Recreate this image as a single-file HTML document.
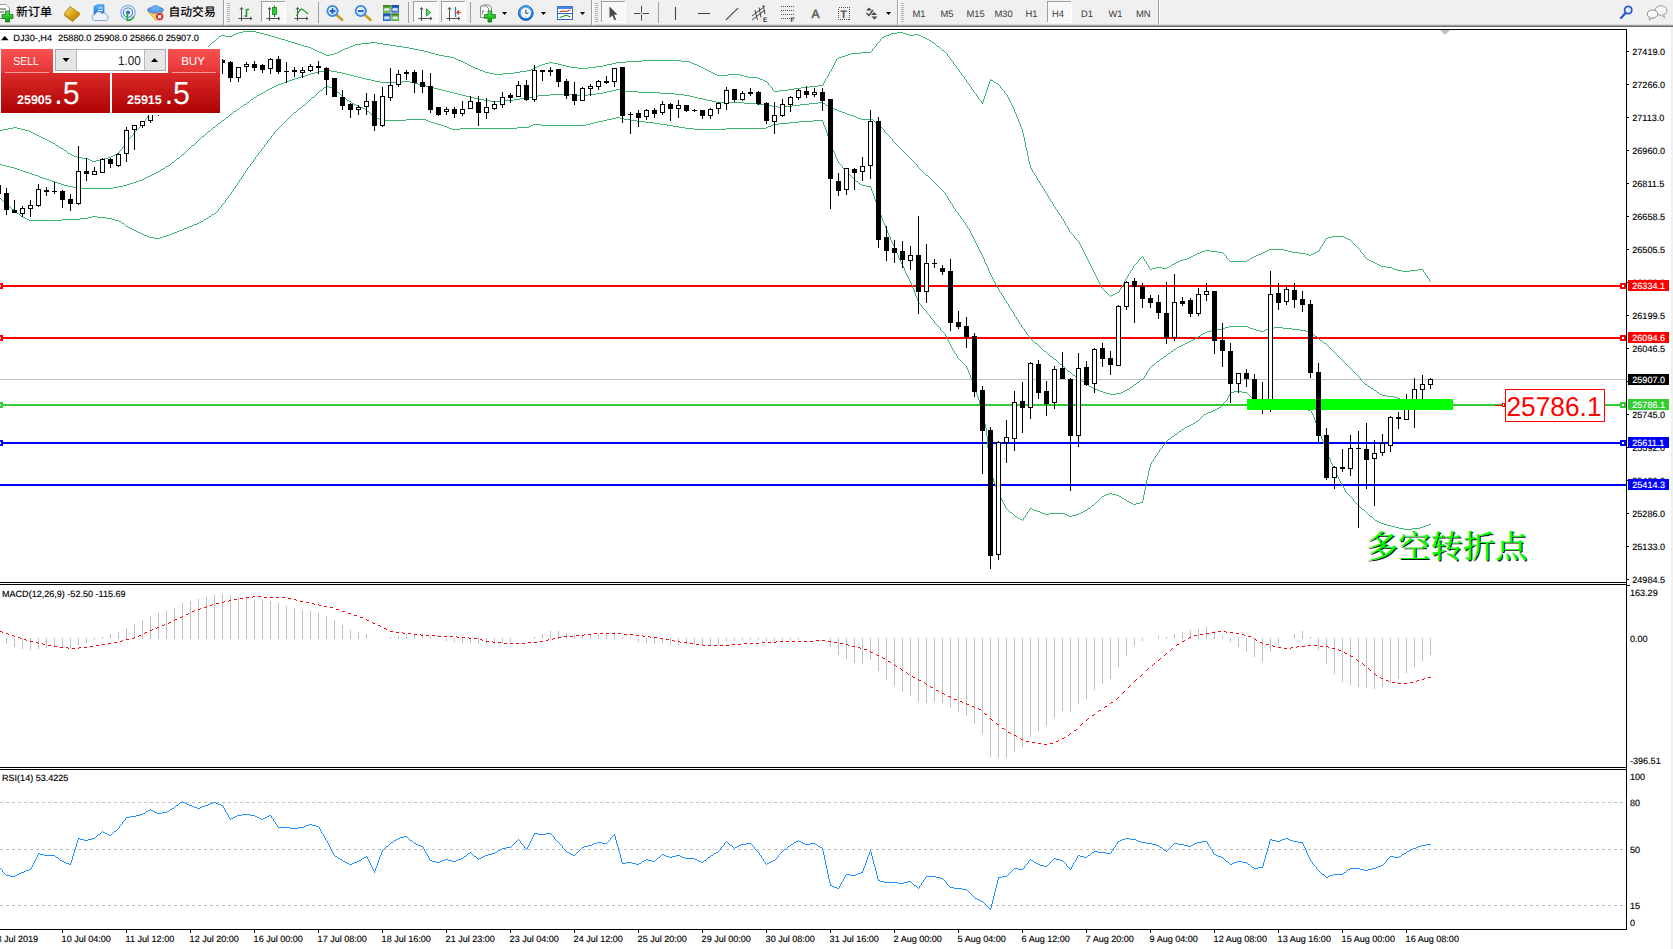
<!DOCTYPE html>
<html><head><meta charset="utf-8"><title>DJ30 H4</title>
<style>html,body{margin:0;padding:0;background:#fff;overflow:hidden}svg{display:block}text{shape-rendering:auto;text-rendering:geometricPrecision}</style></head>
<body>
<svg width="1673" height="949" viewBox="0 0 1673 949" font-family='"Liberation Sans","Noto Sans CJK SC",sans-serif' shape-rendering="crispEdges">
<defs>
<linearGradient id="gt" x1="0" y1="0" x2="0" y2="1"><stop offset="0" stop-color="#fb5252"/><stop offset="1" stop-color="#e53535"/></linearGradient>
<linearGradient id="gb" x1="0" y1="0" x2="0" y2="1"><stop offset="0" stop-color="#dc2a2a"/><stop offset="1" stop-color="#ad0202"/></linearGradient>
<clipPath id="cm"><rect x="0" y="30" width="1626" height="552"/></clipPath>
</defs>
<rect x="0" y="0" width="1673" height="949" fill="#fff"/>
<g clip-path="url(#cm)">
<rect x="0" y="379" width="1626" height="1" fill="#c0c0c0"/>
<rect x="0" y="285" width="1626" height="2" fill="#ff0000"/>
<rect x="0" y="337" width="1626" height="2" fill="#ff0000"/>
<rect x="0" y="404" width="1626" height="2" fill="#32cd32"/>
<rect x="0" y="442" width="1626" height="2" fill="#0000ff"/>
<rect x="0" y="484" width="1626" height="2" fill="#0000ff"/>
<path d="M243 31.5h13M239 32.5h4M256 32.5h4M897 32.5h6M236 33.5h3M260 33.5h4M891 33.5h6M903 33.5h3M234 34.5h2M264 34.5h4M889 34.5h2M906 34.5h3M914 34.5h5M221 35.5h4M232 35.5h2M268 35.5h3M886 35.5h3M909 35.5h5M919 35.5h2M219 36.5h2M225 36.5h7M271 36.5h4M884 36.5h2M921 36.5h2M275 37.5h3M882 37.5h2M923 37.5h2M278 38.5h3M925 38.5h2M281 39.5h4M927 39.5h2M285 40.5h3M929 40.5h2M213 41.5h2M288 41.5h3M291 42.5h4M370 42.5h7M932 42.5h2M295 43.5h3M361 43.5h9M377 43.5h6M298 44.5h3M355 44.5h6M383 44.5h7M301 45.5h3M353 45.5h2M390 45.5h6M304 46.5h4M350 46.5h3M396 46.5h7M937 46.5h2M308 47.5h3M348 47.5h2M403 47.5h6M311 48.5h2M345 48.5h3M409 48.5h5M313 49.5h2M343 49.5h2M414 49.5h5M203 50.5h2M315 50.5h2M341 50.5h2M419 50.5h5M942 50.5h2M317 51.5h2M339 51.5h2M424 51.5h4M319 52.5h3M337 52.5h2M428 52.5h3M861 52.5h10M322 53.5h2M334 53.5h3M431 53.5h4M851 53.5h10M324 54.5h2M330 54.5h4M435 54.5h4M848 54.5h3M326 55.5h4M439 55.5h5M845 55.5h3M444 56.5h6M842 56.5h3M450 57.5h4M839 57.5h3M194 58.5h2M454 58.5h2M837 58.5h2M456 59.5h2M458 60.5h3M642 60.5h39M461 61.5h2M626 61.5h16M681 61.5h9M463 62.5h2M549 62.5h4M616 62.5h10M690 62.5h2M465 63.5h2M545 63.5h4M553 63.5h5M612 63.5h4M692 63.5h2M467 64.5h2M542 64.5h3M558 64.5h4M607 64.5h5M694 64.5h3M469 65.5h2M539 65.5h3M562 65.5h4M603 65.5h4M697 65.5h2M471 66.5h2M537 66.5h2M566 66.5h4M596 66.5h7M699 66.5h2M473 67.5h2M535 67.5h2M570 67.5h8M588 67.5h8M701 67.5h2M475 68.5h3M533 68.5h2M578 68.5h10M703 68.5h2M478 69.5h2M531 69.5h2M705 69.5h2M480 70.5h3M527 70.5h4M707 70.5h2M483 71.5h2M520 71.5h7M709 71.5h2M485 72.5h4M514 72.5h6M711 72.5h2M489 73.5h5M503 73.5h11M713 73.5h2M494 74.5h9M715 74.5h2M728 74.5h12M717 75.5h11M740 75.5h4M744 76.5h4M748 77.5h10M758 78.5h2M760 79.5h3M763 80.5h2M990 80.5h3M765 81.5h2M994 82.5h2M996 83.5h2M818 85.5h5M809 86.5h9M801 87.5h8M794 88.5h7M788 89.5h6M779 90.5h9M774 91.5h5M981 102.5h2M13 127.5h4M8 128.5h5M17 128.5h4M3 129.5h5M21 129.5h4M0 130.5h3M25 130.5h4M29 131.5h2M31 132.5h2M33 133.5h2M35 134.5h2M37 135.5h2M39 136.5h2M41 137.5h2M43 138.5h2M45 139.5h2M47 140.5h2M49 141.5h2M51 142.5h2M53 143.5h2M56 145.5h2M59 147.5h2M61 148.5h2M64 150.5h2M68 153.5h2M117 153.5h2M70 154.5h2M115 154.5h2M72 155.5h2M113 155.5h2M74 156.5h3M111 156.5h2M77 157.5h5M108 157.5h3M82 158.5h6M104 158.5h4M88 159.5h2M100 159.5h4M90 160.5h2M96 160.5h4M92 161.5h4M1332 236.5h12M1328 237.5h4M1344 237.5h2M1326 238.5h2M1346 238.5h2M1348 239.5h2M1269 249.5h15M1205 250.5h5M1267 250.5h2M1284 250.5h4M1202 251.5h3M1210 251.5h8M1265 251.5h2M1288 251.5h4M1317 251.5h2M1200 252.5h2M1218 252.5h5M1263 252.5h2M1292 252.5h7M1315 252.5h2M1197 253.5h3M1261 253.5h2M1299 253.5h7M1313 253.5h2M1195 254.5h2M1258 254.5h3M1306 254.5h3M1311 254.5h2M1193 255.5h2M1256 255.5h2M1309 255.5h2M1191 256.5h2M1254 256.5h2M1189 257.5h2M1252 257.5h2M1187 258.5h2M1250 258.5h2M1183 259.5h4M1367 259.5h2M1180 260.5h3M1247 260.5h2M1369 260.5h2M1178 261.5h2M1230 261.5h17M1371 261.5h2M1176 262.5h2M1373 262.5h2M1174 263.5h2M1375 263.5h2M1172 264.5h2M1377 264.5h2M1379 265.5h2M1169 266.5h2M1381 266.5h5M1156 267.5h6M1167 267.5h2M1386 267.5h6M1152 268.5h4M1162 268.5h5M1392 268.5h2M1150 269.5h2M1394 269.5h3M1418 269.5h5M1397 270.5h5M1410 270.5h8M1402 271.5h8M1117 292.5h2M1115 293.5h2M1113 294.5h2M1111 295.5h2M55.5 144v1M58.5 146v1M63.5 149v1M66.5 151v1M67.5 152v1M119.5 151v2M120.5 150v1M121.5 149v1M122.5 147v2M123.5 146v1M124.5 145v1M125.5 143v2M126.5 142v1M127.5 141v1M128.5 139v2M129.5 138v1M130.5 137v1M131.5 136v1M132.5 135v1M133.5 133v2M134.5 132v1M135.5 131v1M136.5 130v1M137.5 129v1M138.5 128v1M139.5 127v1M140.5 126v1M141.5 125v1M142.5 124v1M143.5 122v2M144.5 121v1M145.5 119v2M146.5 118v1M147.5 116v2M148.5 115v1M149.5 114v1M150.5 112v2M151.5 111v1M152.5 110v1M153.5 109v1M154.5 107v2M155.5 106v1M156.5 105v1M157.5 104v1M158.5 102v2M159.5 101v1M160.5 100v1M161.5 99v1M162.5 97v2M163.5 96v1M164.5 95v1M165.5 93v2M166.5 92v1M167.5 91v1M168.5 89v2M169.5 88v1M170.5 87v1M171.5 85v2M172.5 84v1M173.5 83v1M174.5 81v2M175.5 80v1M176.5 79v1M177.5 78v1M178.5 76v2M179.5 75v1M180.5 74v1M181.5 73v1M182.5 72v1M183.5 70v2M184.5 69v1M185.5 68v1M186.5 67v1M187.5 66v1M188.5 64v2M189.5 63v1M190.5 62v1M191.5 61v1M192.5 60v1M193.5 59v1M196.5 57v1M197.5 56v1M198.5 55v1M199.5 54v1M200.5 53v1M201.5 52v1M202.5 51v1M205.5 49v1M206.5 48v1M207.5 47v1M208.5 46v1M209.5 45v1M210.5 44v1M211.5 43v1M212.5 42v1M215.5 40v1M216.5 39v1M217.5 38v1M218.5 37v1M767.5 82v1M768.5 83v2M769.5 85v1M770.5 86v1M771.5 87v1M772.5 88v2M773.5 90v1M823.5 83v2M824.5 81v2M825.5 79v2M826.5 78v1M827.5 76v2M828.5 74v2M829.5 72v2M830.5 71v1M831.5 69v2M832.5 67v2M833.5 65v2M834.5 63v2M835.5 61v2M836.5 59v2M871.5 51v1M872.5 49v2M873.5 48v1M874.5 47v1M875.5 46v1M876.5 44v2M877.5 43v1M878.5 42v1M879.5 41v1M880.5 39v2M881.5 38v1M931.5 41v1M934.5 43v1M935.5 44v1M936.5 45v1M939.5 47v1M940.5 48v1M941.5 49v1M944.5 51v1M945.5 52v1M946.5 53v1M947.5 54v2M948.5 56v1M949.5 57v1M950.5 58v2M951.5 60v1M952.5 61v1M953.5 62v2M954.5 64v1M955.5 65v1M956.5 66v2M957.5 68v1M958.5 69v1M959.5 70v2M960.5 72v1M961.5 73v2M962.5 75v1M963.5 76v1M964.5 77v2M965.5 79v1M966.5 80v2M967.5 82v1M968.5 83v1M969.5 84v2M970.5 86v1M971.5 87v2M972.5 89v1M973.5 90v2M974.5 92v1M975.5 93v1M976.5 94v2M977.5 96v1M978.5 97v2M979.5 99v1M980.5 100v1M981.5 101v1M982.5 103v1M983.5 99v3M984.5 96v3M985.5 93v3M986.5 90v3M987.5 87v3M988.5 84v3M989.5 81v3M990.5 79v1M993.5 81v1M998.5 84v1M999.5 85v1M1000.5 86v2M1001.5 88v1M1002.5 89v1M1003.5 90v1M1004.5 91v2M1005.5 93v1M1006.5 94v1M1007.5 95v2M1008.5 97v2M1009.5 99v2M1010.5 101v2M1011.5 103v2M1012.5 105v2M1013.5 107v2M1014.5 109v3M1015.5 112v2M1016.5 114v3M1017.5 117v2M1018.5 119v3M1019.5 122v2M1020.5 124v3M1021.5 127v2M1022.5 129v4M1023.5 133v4M1024.5 137v5M1025.5 142v5M1026.5 147v4M1027.5 151v5M1028.5 156v5M1029.5 161v4M1030.5 165v3M1031.5 168v2M1032.5 170v2M1033.5 172v1M1034.5 173v2M1035.5 175v1M1036.5 176v2M1037.5 178v2M1038.5 180v1M1039.5 181v2M1040.5 183v2M1041.5 185v1M1042.5 186v2M1043.5 188v1M1044.5 189v2M1045.5 191v2M1046.5 193v1M1047.5 194v2M1048.5 196v2M1049.5 198v1M1050.5 199v2M1051.5 201v1M1052.5 202v2M1053.5 204v2M1054.5 206v1M1055.5 207v2M1056.5 209v1M1057.5 210v2M1058.5 212v1M1059.5 213v2M1060.5 215v1M1061.5 216v2M1062.5 218v1M1063.5 219v2M1064.5 221v2M1065.5 223v2M1066.5 225v1M1067.5 226v2M1068.5 228v2M1069.5 230v2M1070.5 232v1M1071.5 233v1M1072.5 234v1M1073.5 235v1M1074.5 236v2M1075.5 238v1M1076.5 239v1M1077.5 240v1M1078.5 241v1M1079.5 242v2M1080.5 244v2M1081.5 246v2M1082.5 248v2M1083.5 250v2M1084.5 252v2M1085.5 254v2M1086.5 256v2M1087.5 258v2M1088.5 260v2M1089.5 262v2M1090.5 264v2M1091.5 266v2M1092.5 268v2M1093.5 270v2M1094.5 272v2M1095.5 274v2M1096.5 276v2M1097.5 278v2M1098.5 280v2M1099.5 282v2M1100.5 284v2M1101.5 286v2M1102.5 288v1M1103.5 289v1M1104.5 290v1M1105.5 291v1M1106.5 292v1M1107.5 293v1M1108.5 294v1M1109.5 295v1M1110.5 296v1M1119.5 290v2M1120.5 288v2M1121.5 286v2M1122.5 285v1M1123.5 283v2M1124.5 281v2M1125.5 279v2M1126.5 278v1M1127.5 276v2M1128.5 274v2M1129.5 273v1M1130.5 271v2M1131.5 270v1M1132.5 268v2M1133.5 266v2M1134.5 265v1M1135.5 264v1M1136.5 263v1M1137.5 262v1M1138.5 260v2M1139.5 259v1M1140.5 258v1M1141.5 257v1M1142.5 256v1M1143.5 257v2M1144.5 259v2M1145.5 261v1M1146.5 262v2M1147.5 264v1M1148.5 265v2M1149.5 267v2M1171.5 265v1M1223.5 253v1M1224.5 254v1M1225.5 255v1M1226.5 256v2M1227.5 258v1M1228.5 259v1M1229.5 260v1M1249.5 259v1M1319.5 249v2M1320.5 247v2M1321.5 246v1M1322.5 244v2M1323.5 243v1M1324.5 241v2M1325.5 239v2M1350.5 240v1M1351.5 241v1M1352.5 242v1M1353.5 243v1M1354.5 244v1M1355.5 245v1M1356.5 246v1M1357.5 247v1M1358.5 248v1M1359.5 249v1M1360.5 250v2M1361.5 252v1M1362.5 253v1M1363.5 254v1M1364.5 255v2M1365.5 257v1M1366.5 258v1M1423.5 270v2M1424.5 272v1M1425.5 273v2M1426.5 275v1M1427.5 276v2M1428.5 278v1M1429.5 279v2M1430.5 281v1" fill="none" stroke="#3cb371" stroke-width="1"/>
<path d="M325 70.5h6M319 71.5h6M331 71.5h6M315 72.5h4M337 72.5h5M311 73.5h4M342 73.5h4M308 74.5h3M346 74.5h4M305 75.5h3M350 75.5h4M301 76.5h4M354 76.5h4M298 77.5h3M358 77.5h4M295 78.5h3M362 78.5h4M292 79.5h3M366 79.5h5M289 80.5h3M371 80.5h4M286 81.5h3M375 81.5h5M402 81.5h8M284 82.5h2M380 82.5h22M410 82.5h4M281 83.5h3M414 83.5h4M278 84.5h3M418 84.5h4M276 85.5h2M422 85.5h4M274 86.5h2M426 86.5h4M272 87.5h2M430 87.5h4M270 88.5h2M434 88.5h4M268 89.5h2M438 89.5h4M616 89.5h4M266 90.5h2M442 90.5h4M612 90.5h4M620 90.5h4M446 91.5h4M607 91.5h5M624 91.5h14M263 92.5h2M450 92.5h4M603 92.5h4M638 92.5h22M261 93.5h2M454 93.5h4M596 93.5h7M660 93.5h15M259 94.5h2M458 94.5h4M550 94.5h22M588 94.5h8M675 94.5h9M257 95.5h2M462 95.5h4M538 95.5h12M572 95.5h16M684 95.5h6M466 96.5h4M533 96.5h5M690 96.5h4M254 97.5h2M470 97.5h4M527 97.5h6M694 97.5h4M474 98.5h5M520 98.5h7M698 98.5h5M251 99.5h2M479 99.5h5M514 99.5h6M703 99.5h4M484 100.5h6M501 100.5h13M707 100.5h5M490 101.5h11M712 101.5h4M247 102.5h2M716 102.5h28M818 102.5h5M744 103.5h13M809 103.5h9M823 103.5h2M244 104.5h2M757 104.5h10M800 104.5h9M767 105.5h5M792 105.5h8M826 105.5h2M241 106.5h2M772 106.5h6M784 106.5h8M828 106.5h2M778 107.5h6M830 107.5h2M832 108.5h2M237 109.5h2M834 109.5h3M837 110.5h2M234 111.5h2M839 111.5h3M842 112.5h3M845 113.5h2M230 114.5h2M847 114.5h3M850 115.5h3M853 116.5h3M226 117.5h2M856 117.5h2M858 118.5h3M861 119.5h12M222 120.5h2M218 123.5h2M876 123.5h2M213 127.5h2M208 131.5h2M202 136.5h2M192 145.5h2M182 154.5h2M177 158.5h2M172 162.5h2M0 164.5h2M2 165.5h4M168 165.5h2M6 166.5h4M166 166.5h2M10 167.5h4M14 168.5h3M163 168.5h2M17 169.5h3M161 169.5h2M20 170.5h3M23 171.5h3M158 171.5h2M26 172.5h3M156 172.5h2M29 173.5h3M154 173.5h2M32 174.5h3M152 174.5h2M35 175.5h3M150 175.5h2M926 175.5h2M38 176.5h2M148 176.5h2M40 177.5h3M146 177.5h2M43 178.5h3M144 178.5h2M46 179.5h3M142 179.5h2M49 180.5h3M139 180.5h3M52 181.5h3M136 181.5h3M55 182.5h3M133 182.5h3M58 183.5h3M130 183.5h3M61 184.5h3M127 184.5h3M64 185.5h4M123 185.5h4M68 186.5h5M118 186.5h5M73 187.5h8M113 187.5h5M81 188.5h32M1229 326.5h19M1225 327.5h4M1248 327.5h2M1274 327.5h9M1222 328.5h3M1250 328.5h3M1269 328.5h5M1283 328.5h9M1217 329.5h5M1253 329.5h3M1266 329.5h3M1292 329.5h8M1211 330.5h6M1256 330.5h4M1264 330.5h2M1300 330.5h6M1207 331.5h4M1260 331.5h4M1306 331.5h2M1205 332.5h2M1308 332.5h3M1203 333.5h2M1311 333.5h2M1201 334.5h2M1198 336.5h2M1315 336.5h2M1196 337.5h2M1193 339.5h2M1191 340.5h2M1320 340.5h2M1189 341.5h2M1187 342.5h2M1035 343.5h2M1185 343.5h2M1324 343.5h2M1183 344.5h2M1181 345.5h2M1179 346.5h2M1177 347.5h2M1174 349.5h2M1044 351.5h2M1171 351.5h2M1168 353.5h2M1050 356.5h2M1164 356.5h2M1161 358.5h2M1054 359.5h2M1157 361.5h2M1060 364.5h2M1152 365.5h2M1068 371.5h2M1073 375.5h2M1076 377.5h2M1078 378.5h2M1141 379.5h2M1082 381.5h2M1137 382.5h2M1086 384.5h2M1134 384.5h2M1365 384.5h2M1089 386.5h2M1368 386.5h2M1091 387.5h2M1130 387.5h2M1093 388.5h2M1371 388.5h2M1095 389.5h3M1127 389.5h2M1098 390.5h2M1125 390.5h2M1374 390.5h2M1100 391.5h3M1123 391.5h2M1103 392.5h3M1121 392.5h2M1377 392.5h2M1106 393.5h4M1116 393.5h5M1110 394.5h6M1380 394.5h2M1382 395.5h5M1387 396.5h7M1394 397.5h3M1397 398.5h3M1400 399.5h2M1402 400.5h3M1405 401.5h5M1426 401.5h5M1410 402.5h16M160.5 170v1M165.5 167v1M170.5 164v1M171.5 163v1M174.5 161v1M175.5 160v1M176.5 159v1M179.5 157v1M180.5 156v1M181.5 155v1M184.5 153v1M185.5 152v1M186.5 151v1M187.5 150v1M188.5 149v1M189.5 148v1M190.5 147v1M191.5 146v1M194.5 144v1M195.5 143v1M196.5 142v1M197.5 141v1M198.5 140v1M199.5 139v1M200.5 138v1M201.5 137v1M204.5 135v1M205.5 134v1M206.5 133v1M207.5 132v1M210.5 130v1M211.5 129v1M212.5 128v1M215.5 126v1M216.5 125v1M217.5 124v1M220.5 122v1M221.5 121v1M224.5 119v1M225.5 118v1M228.5 116v1M229.5 115v1M232.5 113v1M233.5 112v1M236.5 110v1M239.5 108v1M240.5 107v1M243.5 105v1M246.5 103v1M249.5 101v1M250.5 100v1M253.5 98v1M256.5 96v1M265.5 91v1M825.5 104v1M873.5 120v1M874.5 121v1M875.5 122v1M878.5 124v1M879.5 125v1M880.5 126v1M881.5 127v1M882.5 128v1M883.5 129v1M884.5 130v2M885.5 132v1M886.5 133v1M887.5 134v1M888.5 135v1M889.5 136v1M890.5 137v1M891.5 138v1M892.5 139v2M893.5 141v1M894.5 142v1M895.5 143v1M896.5 144v1M897.5 145v1M898.5 146v1M899.5 147v1M900.5 148v1M901.5 149v1M902.5 150v1M903.5 151v1M904.5 152v1M905.5 153v1M906.5 154v1M907.5 155v1M908.5 156v1M909.5 157v1M910.5 158v1M911.5 159v1M912.5 160v1M913.5 161v1M914.5 162v1M915.5 163v1M916.5 164v1M917.5 165v2M918.5 167v1M919.5 168v1M920.5 169v1M921.5 170v1M922.5 171v1M923.5 172v1M924.5 173v1M925.5 174v1M928.5 176v1M929.5 177v1M930.5 178v1M931.5 179v1M932.5 180v1M933.5 181v1M934.5 182v1M935.5 183v1M936.5 184v1M937.5 185v1M938.5 186v1M939.5 187v1M940.5 188v1M941.5 189v1M942.5 190v1M943.5 191v1M944.5 192v1M945.5 193v2M946.5 195v1M947.5 196v2M948.5 198v2M949.5 200v1M950.5 201v2M951.5 203v1M952.5 204v2M953.5 206v2M954.5 208v1M955.5 209v2M956.5 211v1M957.5 212v1M958.5 213v2M959.5 215v1M960.5 216v2M961.5 218v1M962.5 219v1M963.5 220v2M964.5 222v1M965.5 223v2M966.5 225v1M967.5 226v2M968.5 228v1M969.5 229v2M970.5 231v2M971.5 233v2M972.5 235v2M973.5 237v2M974.5 239v2M975.5 241v2M976.5 243v2M977.5 245v2M978.5 247v2M979.5 249v2M980.5 251v2M981.5 253v2M982.5 255v2M983.5 257v2M984.5 259v3M985.5 262v2M986.5 264v2M987.5 266v2M988.5 268v3M989.5 271v2M990.5 273v2M991.5 275v2M992.5 277v2M993.5 279v2M994.5 281v2M995.5 283v2M996.5 285v1M997.5 286v2M998.5 288v2M999.5 290v2M1000.5 292v1M1001.5 293v2M1002.5 295v1M1003.5 296v2M1004.5 298v2M1005.5 300v1M1006.5 301v2M1007.5 303v1M1008.5 304v2M1009.5 306v2M1010.5 308v1M1011.5 309v2M1012.5 311v1M1013.5 312v2M1014.5 314v2M1015.5 316v1M1016.5 317v2M1017.5 319v1M1018.5 320v2M1019.5 322v2M1020.5 324v1M1021.5 325v2M1022.5 327v1M1023.5 328v1M1024.5 329v2M1025.5 331v1M1026.5 332v2M1027.5 334v1M1028.5 335v1M1029.5 336v2M1030.5 338v1M1031.5 339v1M1032.5 340v1M1033.5 341v1M1034.5 342v1M1037.5 344v1M1038.5 345v1M1039.5 346v1M1040.5 347v1M1041.5 348v1M1042.5 349v1M1043.5 350v1M1046.5 352v1M1047.5 353v1M1048.5 354v1M1049.5 355v1M1052.5 357v1M1053.5 358v1M1056.5 360v1M1057.5 361v1M1058.5 362v1M1059.5 363v1M1062.5 365v1M1063.5 366v1M1064.5 367v1M1065.5 368v1M1066.5 369v1M1067.5 370v1M1070.5 372v1M1071.5 373v1M1072.5 374v1M1075.5 376v1M1080.5 379v1M1081.5 380v1M1084.5 382v1M1085.5 383v1M1088.5 385v1M1129.5 388v1M1132.5 386v1M1133.5 385v1M1136.5 383v1M1139.5 381v1M1140.5 380v1M1143.5 378v1M1144.5 376v2M1145.5 375v1M1146.5 373v2M1147.5 371v2M1148.5 370v1M1149.5 368v2M1150.5 367v1M1151.5 366v1M1154.5 364v1M1155.5 363v1M1156.5 362v1M1159.5 360v1M1160.5 359v1M1163.5 357v1M1166.5 355v1M1167.5 354v1M1170.5 352v1M1173.5 350v1M1176.5 348v1M1195.5 338v1M1200.5 335v1M1313.5 334v1M1314.5 335v1M1317.5 337v1M1318.5 338v1M1319.5 339v1M1322.5 341v1M1323.5 342v1M1326.5 344v1M1327.5 345v1M1328.5 346v1M1329.5 347v1M1330.5 348v1M1331.5 349v1M1332.5 350v1M1333.5 351v1M1334.5 352v1M1335.5 353v1M1336.5 354v1M1337.5 355v1M1338.5 356v1M1339.5 357v1M1340.5 358v1M1341.5 359v1M1342.5 360v1M1343.5 361v1M1344.5 362v1M1345.5 363v1M1346.5 364v1M1347.5 365v1M1348.5 366v1M1349.5 367v1M1350.5 368v1M1351.5 369v1M1352.5 370v1M1353.5 371v1M1354.5 372v1M1355.5 373v1M1356.5 374v1M1357.5 375v1M1358.5 376v1M1359.5 377v1M1360.5 378v2M1361.5 380v1M1362.5 381v1M1363.5 382v1M1364.5 383v1M1367.5 385v1M1370.5 387v1M1373.5 389v1M1376.5 391v1M1379.5 393v1" fill="none" stroke="#3cb371" stroke-width="1"/>
<path d="M326 86.5h3M324 87.5h2M329 87.5h3M333 89.5h2M320 90.5h2M337 92.5h2M312 97.5h2M343 97.5h2M347 100.5h2M349 101.5h2M352 103.5h2M354 104.5h2M303 105.5h2M356 105.5h2M358 106.5h2M360 107.5h3M299 108.5h2M363 108.5h2M367 111.5h2M294 112.5h2M373 116.5h2M616 117.5h4M376 118.5h3M612 118.5h4M620 118.5h4M379 119.5h5M406 119.5h20M607 119.5h5M624 119.5h6M384 120.5h22M426 120.5h2M603 120.5h4M630 120.5h7M813 120.5h10M428 121.5h3M598 121.5h5M637 121.5h8M799 121.5h14M431 122.5h3M594 122.5h4M645 122.5h9M789 122.5h10M434 123.5h3M590 123.5h4M654 123.5h6M779 123.5h10M437 124.5h4M533 124.5h8M586 124.5h4M660 124.5h7M773 124.5h6M441 125.5h3M531 125.5h2M541 125.5h45M667 125.5h6M771 125.5h2M444 126.5h3M529 126.5h2M673 126.5h6M768 126.5h3M447 127.5h2M517 127.5h12M679 127.5h6M766 127.5h2M449 128.5h3M460 128.5h57M685 128.5h9M726 128.5h40M452 129.5h8M694 129.5h32M856 181.5h2M860 184.5h2M862 185.5h4M866 186.5h5M5 203.5h2M12 209.5h2M17 213.5h2M214 213.5h2M212 214.5h2M21 216.5h2M92 216.5h5M209 216.5h2M23 217.5h2M88 217.5h4M97 217.5h9M25 218.5h2M80 218.5h8M106 218.5h6M206 218.5h2M27 219.5h2M62 219.5h18M112 219.5h3M204 219.5h2M29 220.5h33M115 220.5h4M119 221.5h2M201 221.5h2M199 222.5h2M122 223.5h2M197 223.5h2M194 224.5h3M192 225.5h2M126 226.5h2M189 226.5h3M128 227.5h2M187 227.5h2M130 228.5h2M184 228.5h3M132 229.5h2M182 229.5h2M134 230.5h2M179 230.5h3M136 231.5h2M177 231.5h2M138 232.5h2M174 232.5h3M140 233.5h2M172 233.5h2M142 234.5h2M169 234.5h3M144 235.5h3M166 235.5h3M147 236.5h2M163 236.5h3M149 237.5h5M160 237.5h3M154 238.5h6M1234 391.5h8M1230 392.5h4M1242 392.5h5M1251 397.5h2M1253 398.5h2M1255 399.5h4M1259 400.5h4M1263 401.5h5M1268 402.5h6M1274 403.5h6M1280 404.5h7M1287 405.5h5M1292 406.5h4M1219 407.5h2M1296 407.5h4M1217 408.5h2M1300 408.5h4M1215 409.5h2M1304 409.5h4M1213 410.5h2M1308 410.5h3M1211 411.5h2M1208 412.5h3M1206 413.5h2M1204 414.5h2M1196 421.5h2M1193 423.5h2M1191 424.5h2M1189 425.5h2M1187 426.5h2M1185 427.5h2M1182 429.5h2M1179 431.5h2M1175 434.5h2M1172 436.5h2M1168 439.5h2M1109 493.5h3M1106 494.5h3M1112 494.5h4M1104 495.5h2M1116 495.5h3M1102 496.5h2M1119 496.5h2M1122 498.5h2M1124 499.5h2M1127 501.5h2M1129 502.5h2M1140 502.5h3M1131 503.5h2M1136 503.5h4M1133 504.5h3M1092 505.5h2M1030 508.5h2M1088 508.5h2M1032 509.5h2M1362 509.5h2M1034 510.5h3M1085 510.5h2M1037 511.5h3M1083 511.5h2M1010 512.5h2M1040 512.5h2M1081 512.5h2M1042 513.5h3M1049 513.5h16M1079 513.5h2M1045 514.5h4M1065 514.5h2M1076 514.5h3M1067 515.5h2M1072 515.5h4M1015 516.5h2M1069 516.5h3M1370 516.5h2M1018 518.5h2M1020 519.5h2M1375 520.5h2M1377 521.5h2M1379 522.5h2M1381 523.5h3M1384 524.5h3M1429 524.5h2M1387 525.5h4M1426 525.5h3M1391 526.5h4M1423 526.5h3M1395 527.5h4M1420 527.5h3M1399 528.5h5M1412 528.5h8M1404 529.5h8M0.5 198v1M1.5 199v1M2.5 200v1M3.5 201v1M4.5 202v1M7.5 204v1M8.5 205v1M9.5 206v1M10.5 207v1M11.5 208v1M14.5 210v1M15.5 211v1M16.5 212v1M19.5 214v1M20.5 215v1M121.5 222v1M124.5 224v1M125.5 225v1M203.5 220v1M208.5 217v1M211.5 215v1M216.5 212v1M217.5 211v1M218.5 209v2M219.5 208v1M220.5 207v1M221.5 205v2M222.5 204v1M223.5 203v1M224.5 202v1M225.5 200v2M226.5 199v1M227.5 198v1M228.5 196v2M229.5 195v1M230.5 194v1M231.5 192v2M232.5 191v1M233.5 189v2M234.5 188v1M235.5 186v2M236.5 185v1M237.5 183v2M238.5 182v1M239.5 180v2M240.5 179v1M241.5 177v2M242.5 176v1M243.5 174v2M244.5 173v1M245.5 171v2M246.5 170v1M247.5 168v2M248.5 167v1M249.5 166v1M250.5 164v2M251.5 163v1M252.5 162v1M253.5 160v2M254.5 159v1M255.5 157v2M256.5 156v1M257.5 155v1M258.5 153v2M259.5 152v1M260.5 151v1M261.5 149v2M262.5 148v1M263.5 147v1M264.5 145v2M265.5 144v1M266.5 143v1M267.5 141v2M268.5 140v1M269.5 139v1M270.5 138v1M271.5 136v2M272.5 135v1M273.5 134v1M274.5 132v2M275.5 131v1M276.5 130v1M277.5 129v1M278.5 128v1M279.5 127v1M280.5 126v1M281.5 125v1M282.5 124v1M283.5 123v1M284.5 122v1M285.5 121v1M286.5 120v1M287.5 119v1M288.5 118v1M289.5 117v1M290.5 116v1M291.5 115v1M292.5 114v1M293.5 113v1M296.5 111v1M297.5 110v1M298.5 109v1M301.5 107v1M302.5 106v1M305.5 104v1M306.5 103v1M307.5 102v1M308.5 101v1M309.5 100v1M310.5 99v1M311.5 98v1M314.5 96v1M315.5 95v1M316.5 94v1M317.5 93v1M318.5 92v1M319.5 91v1M322.5 89v1M323.5 88v1M332.5 88v1M335.5 90v1M336.5 91v1M339.5 93v1M340.5 94v1M341.5 95v1M342.5 96v1M345.5 98v1M346.5 99v1M351.5 102v1M365.5 109v1M366.5 110v1M369.5 112v1M370.5 113v1M371.5 114v1M372.5 115v1M375.5 117v1M822.5 121v1M823.5 122v3M824.5 125v2M825.5 127v3M826.5 130v3M827.5 133v3M828.5 136v3M829.5 139v2M830.5 141v3M831.5 144v3M832.5 147v3M833.5 150v2M834.5 152v2M835.5 154v3M836.5 157v2M837.5 159v2M838.5 161v2M839.5 163v1M840.5 164v1M841.5 165v1M842.5 166v2M843.5 168v1M844.5 169v1M845.5 170v1M846.5 171v1M847.5 172v1M848.5 173v1M849.5 174v1M850.5 175v1M851.5 176v1M852.5 177v1M853.5 178v1M854.5 179v1M855.5 180v1M858.5 182v1M859.5 183v1M870.5 187v1M871.5 188v3M872.5 191v2M873.5 193v3M874.5 196v3M875.5 199v3M876.5 202v3M877.5 205v2M878.5 207v3M879.5 210v3M880.5 213v2M881.5 215v3M882.5 218v3M883.5 221v2M884.5 223v2M885.5 225v3M886.5 228v2M887.5 230v3M888.5 233v2M889.5 235v2M890.5 237v3M891.5 240v2M892.5 242v2M893.5 244v2M894.5 246v3M895.5 249v2M896.5 251v2M897.5 253v2M898.5 255v3M899.5 258v2M900.5 260v2M901.5 262v2M902.5 264v2M903.5 266v2M904.5 268v3M905.5 271v2M906.5 273v2M907.5 275v2M908.5 277v2M909.5 279v2M910.5 281v2M911.5 283v2M912.5 285v3M913.5 288v2M914.5 290v3M915.5 293v3M916.5 296v2M917.5 298v3M918.5 301v2M919.5 303v1M920.5 304v1M921.5 305v2M922.5 307v1M923.5 308v1M924.5 309v1M925.5 310v1M926.5 311v2M927.5 313v1M928.5 314v1M929.5 315v1M930.5 316v2M931.5 318v1M932.5 319v1M933.5 320v1M934.5 321v2M935.5 323v1M936.5 324v1M937.5 325v1M938.5 326v1M939.5 327v1M940.5 328v2M941.5 330v1M942.5 331v1M943.5 332v1M944.5 333v1M945.5 334v2M946.5 336v2M947.5 338v2M948.5 340v2M949.5 342v2M950.5 344v2M951.5 346v2M952.5 348v2M953.5 350v1M954.5 351v2M955.5 353v1M956.5 354v2M957.5 356v2M958.5 358v1M959.5 359v1M960.5 360v1M961.5 361v1M962.5 362v1M963.5 363v1M964.5 364v1M965.5 365v1M966.5 366v2M967.5 368v2M968.5 370v3M969.5 373v2M970.5 375v3M971.5 378v2M972.5 380v3M973.5 383v3M974.5 386v3M975.5 389v2M976.5 391v3M977.5 394v3M978.5 397v3M979.5 400v4M980.5 404v3M981.5 407v4M982.5 411v4M983.5 415v4M984.5 419v5M985.5 424v4M986.5 428v8M987.5 436v12M988.5 448v9M989.5 457v5M990.5 462v5M991.5 467v6M992.5 473v5M993.5 478v4M994.5 482v2M995.5 484v3M996.5 487v3M997.5 490v2M998.5 492v2M999.5 494v2M1000.5 496v2M1001.5 498v2M1002.5 500v2M1003.5 502v2M1004.5 504v2M1005.5 506v2M1006.5 508v1M1007.5 509v1M1008.5 510v1M1009.5 511v1M1012.5 513v1M1013.5 514v1M1014.5 515v1M1017.5 517v1M1022.5 520v1M1023.5 518v2M1024.5 517v1M1025.5 515v2M1026.5 514v1M1027.5 512v2M1028.5 511v1M1029.5 509v2M1087.5 509v1M1090.5 507v1M1091.5 506v1M1094.5 504v1M1095.5 503v1M1096.5 502v1M1097.5 501v1M1098.5 500v1M1099.5 499v1M1100.5 498v1M1101.5 497v1M1121.5 497v1M1126.5 500v1M1142.5 500v2M1143.5 495v5M1144.5 490v5M1145.5 485v5M1146.5 480v5M1147.5 476v4M1148.5 471v5M1149.5 467v4M1150.5 464v3M1151.5 462v2M1152.5 461v1M1153.5 459v2M1154.5 458v1M1155.5 456v2M1156.5 455v1M1157.5 453v2M1158.5 452v1M1159.5 450v2M1160.5 449v1M1161.5 448v1M1162.5 446v2M1163.5 445v1M1164.5 444v1M1165.5 442v2M1166.5 441v1M1167.5 440v1M1170.5 438v1M1171.5 437v1M1174.5 435v1M1177.5 433v1M1178.5 432v1M1181.5 430v1M1184.5 428v1M1195.5 422v1M1198.5 420v1M1199.5 419v1M1200.5 418v1M1201.5 417v1M1202.5 416v1M1203.5 415v1M1221.5 406v1M1222.5 405v1M1223.5 403v2M1224.5 402v1M1225.5 401v1M1226.5 400v1M1227.5 398v2M1228.5 396v2M1229.5 394v2M1230.5 393v1M1247.5 393v1M1248.5 394v1M1249.5 395v1M1250.5 396v1M1311.5 411v2M1312.5 413v2M1313.5 415v2M1314.5 417v3M1315.5 420v3M1316.5 423v3M1317.5 426v3M1318.5 429v3M1319.5 432v2M1320.5 434v2M1321.5 436v3M1322.5 439v2M1323.5 441v3M1324.5 444v2M1325.5 446v3M1326.5 449v2M1327.5 451v3M1328.5 454v3M1329.5 457v2M1330.5 459v3M1331.5 462v2M1332.5 464v2M1333.5 466v2M1334.5 468v3M1335.5 471v2M1336.5 473v2M1337.5 475v2M1338.5 477v2M1339.5 479v2M1340.5 481v2M1341.5 483v2M1342.5 485v1M1343.5 486v2M1344.5 488v2M1345.5 490v2M1346.5 492v1M1347.5 493v1M1348.5 494v1M1349.5 495v1M1350.5 496v1M1351.5 497v1M1352.5 498v1M1353.5 499v2M1354.5 501v1M1355.5 502v1M1356.5 503v1M1357.5 504v1M1358.5 505v1M1359.5 506v1M1360.5 507v1M1361.5 508v1M1364.5 510v1M1365.5 511v1M1366.5 512v1M1367.5 513v1M1368.5 514v1M1369.5 515v1M1372.5 517v1M1373.5 518v1M1374.5 519v1" fill="none" stroke="#3cb371" stroke-width="1"/>
<rect x="1247" y="399" width="206" height="11" fill="#00ff00"/>
<rect x="-2" y="183" width="1" height="13" fill="#000"/>
<rect x="-4" y="185" width="5" height="9" fill="#000"/>
<rect x="6" y="188" width="1" height="27" fill="#000"/>
<rect x="4" y="193" width="5" height="17" fill="#000"/>
<rect x="14" y="200" width="1" height="13" fill="#000"/>
<rect x="12" y="210" width="5" height="3" fill="#000"/>
<rect x="22" y="206" width="1" height="11" fill="#000"/>
<rect x="20" y="208" width="5" height="6" fill="#000"/>
<rect x="21" y="209" width="3" height="4" fill="#fff"/>
<rect x="30" y="200" width="1" height="17" fill="#000"/>
<rect x="28" y="205" width="5" height="4" fill="#000"/>
<rect x="29" y="206" width="3" height="2" fill="#fff"/>
<rect x="38" y="184" width="1" height="23" fill="#000"/>
<rect x="36" y="189" width="5" height="17" fill="#000"/>
<rect x="37" y="190" width="3" height="15" fill="#fff"/>
<rect x="46" y="187" width="1" height="9" fill="#000"/>
<rect x="44" y="190" width="5" height="2" fill="#000"/>
<rect x="54" y="182" width="1" height="12" fill="#000"/>
<rect x="52" y="191" width="5" height="1" fill="#000"/>
<rect x="62" y="190" width="1" height="18" fill="#000"/>
<rect x="60" y="191" width="5" height="9" fill="#000"/>
<rect x="70" y="194" width="1" height="17" fill="#000"/>
<rect x="68" y="199" width="5" height="5" fill="#000"/>
<rect x="78" y="146" width="1" height="59" fill="#000"/>
<rect x="76" y="171" width="5" height="33" fill="#000"/>
<rect x="77" y="172" width="3" height="31" fill="#fff"/>
<rect x="86" y="158" width="1" height="23" fill="#000"/>
<rect x="84" y="171" width="5" height="3" fill="#000"/>
<rect x="94" y="167" width="1" height="8" fill="#000"/>
<rect x="92" y="171" width="5" height="4" fill="#000"/>
<rect x="93" y="172" width="3" height="2" fill="#fff"/>
<rect x="102" y="158" width="1" height="15" fill="#000"/>
<rect x="100" y="159" width="5" height="14" fill="#000"/>
<rect x="101" y="160" width="3" height="12" fill="#fff"/>
<rect x="110" y="158" width="1" height="10" fill="#000"/>
<rect x="108" y="159" width="5" height="5" fill="#000"/>
<rect x="118" y="153" width="1" height="14" fill="#000"/>
<rect x="116" y="154" width="5" height="12" fill="#000"/>
<rect x="117" y="155" width="3" height="10" fill="#fff"/>
<rect x="126" y="127" width="1" height="35" fill="#000"/>
<rect x="124" y="130" width="5" height="24" fill="#000"/>
<rect x="125" y="131" width="3" height="22" fill="#fff"/>
<rect x="134" y="125" width="1" height="25" fill="#000"/>
<rect x="132" y="125" width="5" height="5" fill="#000"/>
<rect x="133" y="126" width="3" height="3" fill="#fff"/>
<rect x="142" y="121" width="1" height="7" fill="#000"/>
<rect x="140" y="121" width="5" height="5" fill="#000"/>
<rect x="141" y="122" width="3" height="3" fill="#fff"/>
<rect x="150" y="112" width="1" height="11" fill="#000"/>
<rect x="148" y="113" width="5" height="8" fill="#000"/>
<rect x="149" y="114" width="3" height="6" fill="#fff"/>
<rect x="158" y="108" width="1" height="8" fill="#000"/>
<rect x="156" y="109" width="5" height="6" fill="#000"/>
<rect x="157" y="110" width="3" height="4" fill="#fff"/>
<rect x="222" y="59" width="1" height="15" fill="#000"/>
<rect x="220" y="60" width="5" height="3" fill="#000"/>
<rect x="230" y="61" width="1" height="21" fill="#000"/>
<rect x="228" y="62" width="5" height="16" fill="#000"/>
<rect x="238" y="67" width="1" height="15" fill="#000"/>
<rect x="236" y="67" width="5" height="11" fill="#000"/>
<rect x="237" y="68" width="3" height="9" fill="#fff"/>
<rect x="246" y="62" width="1" height="10" fill="#000"/>
<rect x="244" y="64" width="5" height="3" fill="#000"/>
<rect x="245" y="65" width="3" height="1" fill="#fff"/>
<rect x="254" y="61" width="1" height="10" fill="#000"/>
<rect x="252" y="64" width="5" height="4" fill="#000"/>
<rect x="262" y="64" width="1" height="9" fill="#000"/>
<rect x="260" y="65" width="5" height="5" fill="#000"/>
<rect x="270" y="58" width="1" height="16" fill="#000"/>
<rect x="268" y="59" width="5" height="10" fill="#000"/>
<rect x="269" y="60" width="3" height="8" fill="#fff"/>
<rect x="278" y="56" width="1" height="18" fill="#000"/>
<rect x="276" y="59" width="5" height="13" fill="#000"/>
<rect x="286" y="62" width="1" height="21" fill="#000"/>
<rect x="284" y="71" width="5" height="1" fill="#000"/>
<rect x="294" y="67" width="1" height="10" fill="#000"/>
<rect x="292" y="70" width="5" height="2" fill="#000"/>
<rect x="302" y="67" width="1" height="11" fill="#000"/>
<rect x="300" y="70" width="5" height="3" fill="#000"/>
<rect x="301" y="71" width="3" height="1" fill="#fff"/>
<rect x="310" y="64" width="1" height="8" fill="#000"/>
<rect x="308" y="66" width="5" height="5" fill="#000"/>
<rect x="309" y="67" width="3" height="3" fill="#fff"/>
<rect x="318" y="61" width="1" height="13" fill="#000"/>
<rect x="316" y="66" width="5" height="2" fill="#000"/>
<rect x="326" y="67" width="1" height="28" fill="#000"/>
<rect x="324" y="68" width="5" height="12" fill="#000"/>
<rect x="334" y="78" width="1" height="19" fill="#000"/>
<rect x="332" y="78" width="5" height="19" fill="#000"/>
<rect x="342" y="90" width="1" height="20" fill="#000"/>
<rect x="340" y="97" width="5" height="9" fill="#000"/>
<rect x="350" y="103" width="1" height="15" fill="#000"/>
<rect x="348" y="104" width="5" height="6" fill="#000"/>
<rect x="358" y="105" width="1" height="10" fill="#000"/>
<rect x="356" y="107" width="5" height="3" fill="#000"/>
<rect x="357" y="108" width="3" height="1" fill="#fff"/>
<rect x="366" y="93" width="1" height="22" fill="#000"/>
<rect x="364" y="101" width="5" height="6" fill="#000"/>
<rect x="365" y="102" width="3" height="4" fill="#fff"/>
<rect x="374" y="94" width="1" height="37" fill="#000"/>
<rect x="372" y="101" width="5" height="25" fill="#000"/>
<rect x="382" y="87" width="1" height="40" fill="#000"/>
<rect x="380" y="96" width="5" height="30" fill="#000"/>
<rect x="381" y="97" width="3" height="28" fill="#fff"/>
<rect x="390" y="68" width="1" height="33" fill="#000"/>
<rect x="388" y="85" width="5" height="13" fill="#000"/>
<rect x="389" y="86" width="3" height="11" fill="#fff"/>
<rect x="398" y="70" width="1" height="17" fill="#000"/>
<rect x="396" y="74" width="5" height="11" fill="#000"/>
<rect x="397" y="75" width="3" height="9" fill="#fff"/>
<rect x="406" y="70" width="1" height="10" fill="#000"/>
<rect x="404" y="72" width="5" height="2" fill="#000"/>
<rect x="414" y="70" width="1" height="23" fill="#000"/>
<rect x="412" y="72" width="5" height="11" fill="#000"/>
<rect x="422" y="70" width="1" height="23" fill="#000"/>
<rect x="420" y="82" width="5" height="5" fill="#000"/>
<rect x="430" y="73" width="1" height="40" fill="#000"/>
<rect x="428" y="86" width="5" height="24" fill="#000"/>
<rect x="438" y="107" width="1" height="9" fill="#000"/>
<rect x="436" y="107" width="5" height="8" fill="#000"/>
<rect x="446" y="107" width="1" height="8" fill="#000"/>
<rect x="444" y="109" width="5" height="3" fill="#000"/>
<rect x="445" y="110" width="3" height="1" fill="#fff"/>
<rect x="454" y="107" width="1" height="11" fill="#000"/>
<rect x="452" y="109" width="5" height="5" fill="#000"/>
<rect x="462" y="101" width="1" height="15" fill="#000"/>
<rect x="460" y="109" width="5" height="5" fill="#000"/>
<rect x="461" y="110" width="3" height="3" fill="#fff"/>
<rect x="470" y="96" width="1" height="13" fill="#000"/>
<rect x="468" y="101" width="5" height="8" fill="#000"/>
<rect x="469" y="102" width="3" height="6" fill="#fff"/>
<rect x="478" y="96" width="1" height="30" fill="#000"/>
<rect x="476" y="102" width="5" height="11" fill="#000"/>
<rect x="486" y="98" width="1" height="21" fill="#000"/>
<rect x="484" y="107" width="5" height="6" fill="#000"/>
<rect x="485" y="108" width="3" height="4" fill="#fff"/>
<rect x="494" y="101" width="1" height="9" fill="#000"/>
<rect x="492" y="104" width="5" height="5" fill="#000"/>
<rect x="493" y="105" width="3" height="3" fill="#fff"/>
<rect x="502" y="92" width="1" height="16" fill="#000"/>
<rect x="500" y="97" width="5" height="8" fill="#000"/>
<rect x="501" y="98" width="3" height="6" fill="#fff"/>
<rect x="510" y="93" width="1" height="10" fill="#000"/>
<rect x="508" y="95" width="5" height="3" fill="#000"/>
<rect x="518" y="81" width="1" height="16" fill="#000"/>
<rect x="516" y="85" width="5" height="12" fill="#000"/>
<rect x="517" y="86" width="3" height="10" fill="#fff"/>
<rect x="526" y="80" width="1" height="21" fill="#000"/>
<rect x="524" y="85" width="5" height="15" fill="#000"/>
<rect x="534" y="65" width="1" height="37" fill="#000"/>
<rect x="532" y="70" width="5" height="30" fill="#000"/>
<rect x="533" y="71" width="3" height="28" fill="#fff"/>
<rect x="542" y="70" width="1" height="11" fill="#000"/>
<rect x="540" y="70" width="5" height="2" fill="#000"/>
<rect x="550" y="67" width="1" height="9" fill="#000"/>
<rect x="548" y="70" width="5" height="2" fill="#000"/>
<rect x="558" y="69" width="1" height="18" fill="#000"/>
<rect x="556" y="69" width="5" height="13" fill="#000"/>
<rect x="566" y="79" width="1" height="20" fill="#000"/>
<rect x="564" y="81" width="5" height="15" fill="#000"/>
<rect x="574" y="82" width="1" height="23" fill="#000"/>
<rect x="572" y="94" width="5" height="7" fill="#000"/>
<rect x="582" y="87" width="1" height="14" fill="#000"/>
<rect x="580" y="88" width="5" height="13" fill="#000"/>
<rect x="581" y="89" width="3" height="11" fill="#fff"/>
<rect x="590" y="84" width="1" height="12" fill="#000"/>
<rect x="588" y="86" width="5" height="3" fill="#000"/>
<rect x="589" y="87" width="3" height="1" fill="#fff"/>
<rect x="598" y="80" width="1" height="10" fill="#000"/>
<rect x="596" y="81" width="5" height="6" fill="#000"/>
<rect x="597" y="82" width="3" height="4" fill="#fff"/>
<rect x="606" y="76" width="1" height="8" fill="#000"/>
<rect x="604" y="81" width="5" height="2" fill="#000"/>
<rect x="614" y="68" width="1" height="19" fill="#000"/>
<rect x="612" y="68" width="5" height="14" fill="#000"/>
<rect x="613" y="69" width="3" height="12" fill="#fff"/>
<rect x="622" y="67" width="1" height="56" fill="#000"/>
<rect x="620" y="67" width="5" height="49" fill="#000"/>
<rect x="630" y="112" width="1" height="22" fill="#000"/>
<rect x="628" y="114" width="5" height="1" fill="#000"/>
<rect x="638" y="110" width="1" height="17" fill="#000"/>
<rect x="636" y="113" width="5" height="5" fill="#000"/>
<rect x="646" y="109" width="1" height="11" fill="#000"/>
<rect x="644" y="110" width="5" height="7" fill="#000"/>
<rect x="645" y="111" width="3" height="5" fill="#fff"/>
<rect x="654" y="108" width="1" height="10" fill="#000"/>
<rect x="652" y="110" width="5" height="4" fill="#000"/>
<rect x="662" y="101" width="1" height="14" fill="#000"/>
<rect x="660" y="104" width="5" height="9" fill="#000"/>
<rect x="661" y="105" width="3" height="7" fill="#fff"/>
<rect x="670" y="103" width="1" height="18" fill="#000"/>
<rect x="668" y="104" width="5" height="5" fill="#000"/>
<rect x="678" y="100" width="1" height="18" fill="#000"/>
<rect x="676" y="105" width="5" height="4" fill="#000"/>
<rect x="677" y="106" width="3" height="2" fill="#fff"/>
<rect x="686" y="105" width="1" height="7" fill="#000"/>
<rect x="684" y="105" width="5" height="6" fill="#000"/>
<rect x="694" y="109" width="1" height="3" fill="#000"/>
<rect x="692" y="110" width="5" height="1" fill="#000"/>
<rect x="702" y="110" width="1" height="9" fill="#000"/>
<rect x="700" y="110" width="5" height="6" fill="#000"/>
<rect x="710" y="108" width="1" height="11" fill="#000"/>
<rect x="708" y="109" width="5" height="7" fill="#000"/>
<rect x="709" y="110" width="3" height="5" fill="#fff"/>
<rect x="718" y="102" width="1" height="12" fill="#000"/>
<rect x="716" y="103" width="5" height="6" fill="#000"/>
<rect x="717" y="104" width="3" height="4" fill="#fff"/>
<rect x="726" y="87" width="1" height="23" fill="#000"/>
<rect x="724" y="90" width="5" height="14" fill="#000"/>
<rect x="725" y="91" width="3" height="12" fill="#fff"/>
<rect x="734" y="89" width="1" height="13" fill="#000"/>
<rect x="732" y="89" width="5" height="11" fill="#000"/>
<rect x="742" y="91" width="1" height="10" fill="#000"/>
<rect x="740" y="93" width="5" height="7" fill="#000"/>
<rect x="741" y="94" width="3" height="5" fill="#fff"/>
<rect x="750" y="88" width="1" height="8" fill="#000"/>
<rect x="748" y="92" width="5" height="2" fill="#000"/>
<rect x="758" y="91" width="1" height="14" fill="#000"/>
<rect x="756" y="92" width="5" height="12" fill="#000"/>
<rect x="766" y="102" width="1" height="22" fill="#000"/>
<rect x="764" y="103" width="5" height="18" fill="#000"/>
<rect x="774" y="102" width="1" height="32" fill="#000"/>
<rect x="772" y="115" width="5" height="7" fill="#000"/>
<rect x="773" y="116" width="3" height="5" fill="#fff"/>
<rect x="782" y="99" width="1" height="18" fill="#000"/>
<rect x="780" y="104" width="5" height="12" fill="#000"/>
<rect x="781" y="105" width="3" height="10" fill="#fff"/>
<rect x="790" y="96" width="1" height="16" fill="#000"/>
<rect x="788" y="97" width="5" height="8" fill="#000"/>
<rect x="789" y="98" width="3" height="6" fill="#fff"/>
<rect x="798" y="89" width="1" height="11" fill="#000"/>
<rect x="796" y="90" width="5" height="8" fill="#000"/>
<rect x="797" y="91" width="3" height="6" fill="#fff"/>
<rect x="806" y="86" width="1" height="12" fill="#000"/>
<rect x="804" y="91" width="5" height="4" fill="#000"/>
<rect x="814" y="88" width="1" height="9" fill="#000"/>
<rect x="812" y="92" width="5" height="3" fill="#000"/>
<rect x="813" y="93" width="3" height="1" fill="#fff"/>
<rect x="822" y="88" width="1" height="23" fill="#000"/>
<rect x="820" y="92" width="5" height="9" fill="#000"/>
<rect x="830" y="99" width="1" height="110" fill="#000"/>
<rect x="828" y="99" width="5" height="80" fill="#000"/>
<rect x="838" y="173" width="1" height="23" fill="#000"/>
<rect x="836" y="181" width="5" height="10" fill="#000"/>
<rect x="846" y="168" width="1" height="27" fill="#000"/>
<rect x="844" y="168" width="5" height="22" fill="#000"/>
<rect x="845" y="169" width="3" height="20" fill="#fff"/>
<rect x="854" y="168" width="1" height="22" fill="#000"/>
<rect x="852" y="169" width="5" height="4" fill="#000"/>
<rect x="862" y="157" width="1" height="24" fill="#000"/>
<rect x="860" y="166" width="5" height="6" fill="#000"/>
<rect x="861" y="167" width="3" height="4" fill="#fff"/>
<rect x="870" y="110" width="1" height="69" fill="#000"/>
<rect x="868" y="121" width="5" height="45" fill="#000"/>
<rect x="869" y="122" width="3" height="43" fill="#fff"/>
<rect x="878" y="117" width="1" height="131" fill="#000"/>
<rect x="876" y="121" width="5" height="119" fill="#000"/>
<rect x="886" y="226" width="1" height="35" fill="#000"/>
<rect x="884" y="237" width="5" height="14" fill="#000"/>
<rect x="894" y="240" width="1" height="23" fill="#000"/>
<rect x="892" y="248" width="5" height="5" fill="#000"/>
<rect x="902" y="241" width="1" height="27" fill="#000"/>
<rect x="900" y="251" width="5" height="9" fill="#000"/>
<rect x="910" y="246" width="1" height="24" fill="#000"/>
<rect x="908" y="255" width="5" height="6" fill="#000"/>
<rect x="909" y="256" width="3" height="4" fill="#fff"/>
<rect x="918" y="216" width="1" height="98" fill="#000"/>
<rect x="916" y="255" width="5" height="37" fill="#000"/>
<rect x="926" y="244" width="1" height="59" fill="#000"/>
<rect x="924" y="263" width="5" height="29" fill="#000"/>
<rect x="925" y="264" width="3" height="27" fill="#fff"/>
<rect x="934" y="259" width="1" height="9" fill="#000"/>
<rect x="932" y="263" width="5" height="1" fill="#000"/>
<rect x="942" y="265" width="1" height="10" fill="#000"/>
<rect x="940" y="268" width="5" height="4" fill="#000"/>
<rect x="950" y="259" width="1" height="72" fill="#000"/>
<rect x="948" y="271" width="5" height="52" fill="#000"/>
<rect x="958" y="311" width="1" height="18" fill="#000"/>
<rect x="956" y="322" width="5" height="5" fill="#000"/>
<rect x="966" y="317" width="1" height="31" fill="#000"/>
<rect x="964" y="326" width="5" height="11" fill="#000"/>
<rect x="974" y="333" width="1" height="64" fill="#000"/>
<rect x="972" y="336" width="5" height="56" fill="#000"/>
<rect x="982" y="386" width="1" height="88" fill="#000"/>
<rect x="980" y="390" width="5" height="41" fill="#000"/>
<rect x="990" y="427" width="1" height="142" fill="#000"/>
<rect x="988" y="430" width="5" height="126" fill="#000"/>
<rect x="998" y="441" width="1" height="119" fill="#000"/>
<rect x="996" y="442" width="5" height="113" fill="#000"/>
<rect x="997" y="443" width="3" height="111" fill="#fff"/>
<rect x="1006" y="420" width="1" height="43" fill="#000"/>
<rect x="1004" y="437" width="5" height="6" fill="#000"/>
<rect x="1005" y="438" width="3" height="4" fill="#fff"/>
<rect x="1014" y="391" width="1" height="60" fill="#000"/>
<rect x="1012" y="402" width="5" height="37" fill="#000"/>
<rect x="1013" y="403" width="3" height="35" fill="#fff"/>
<rect x="1022" y="382" width="1" height="51" fill="#000"/>
<rect x="1020" y="401" width="5" height="7" fill="#000"/>
<rect x="1030" y="362" width="1" height="57" fill="#000"/>
<rect x="1028" y="363" width="5" height="45" fill="#000"/>
<rect x="1029" y="364" width="3" height="43" fill="#fff"/>
<rect x="1038" y="360" width="1" height="39" fill="#000"/>
<rect x="1036" y="364" width="5" height="29" fill="#000"/>
<rect x="1046" y="381" width="1" height="35" fill="#000"/>
<rect x="1044" y="391" width="5" height="13" fill="#000"/>
<rect x="1054" y="366" width="1" height="43" fill="#000"/>
<rect x="1052" y="369" width="5" height="34" fill="#000"/>
<rect x="1053" y="370" width="3" height="32" fill="#fff"/>
<rect x="1062" y="352" width="1" height="27" fill="#000"/>
<rect x="1060" y="368" width="5" height="11" fill="#000"/>
<rect x="1070" y="378" width="1" height="113" fill="#000"/>
<rect x="1068" y="379" width="5" height="57" fill="#000"/>
<rect x="1078" y="353" width="1" height="94" fill="#000"/>
<rect x="1076" y="368" width="5" height="68" fill="#000"/>
<rect x="1077" y="369" width="3" height="66" fill="#fff"/>
<rect x="1086" y="361" width="1" height="25" fill="#000"/>
<rect x="1084" y="367" width="5" height="18" fill="#000"/>
<rect x="1094" y="348" width="1" height="45" fill="#000"/>
<rect x="1092" y="349" width="5" height="35" fill="#000"/>
<rect x="1093" y="350" width="3" height="33" fill="#fff"/>
<rect x="1102" y="343" width="1" height="24" fill="#000"/>
<rect x="1100" y="348" width="5" height="11" fill="#000"/>
<rect x="1110" y="351" width="1" height="24" fill="#000"/>
<rect x="1108" y="358" width="5" height="7" fill="#000"/>
<rect x="1118" y="305" width="1" height="61" fill="#000"/>
<rect x="1116" y="306" width="5" height="60" fill="#000"/>
<rect x="1117" y="307" width="3" height="58" fill="#fff"/>
<rect x="1126" y="281" width="1" height="29" fill="#000"/>
<rect x="1124" y="282" width="5" height="25" fill="#000"/>
<rect x="1125" y="283" width="3" height="23" fill="#fff"/>
<rect x="1134" y="278" width="1" height="45" fill="#000"/>
<rect x="1132" y="281" width="5" height="6" fill="#000"/>
<rect x="1142" y="283" width="1" height="25" fill="#000"/>
<rect x="1140" y="286" width="5" height="13" fill="#000"/>
<rect x="1150" y="295" width="1" height="13" fill="#000"/>
<rect x="1148" y="298" width="5" height="5" fill="#000"/>
<rect x="1158" y="295" width="1" height="24" fill="#000"/>
<rect x="1156" y="302" width="5" height="11" fill="#000"/>
<rect x="1166" y="282" width="1" height="62" fill="#000"/>
<rect x="1164" y="313" width="5" height="25" fill="#000"/>
<rect x="1174" y="274" width="1" height="67" fill="#000"/>
<rect x="1172" y="302" width="5" height="36" fill="#000"/>
<rect x="1173" y="303" width="3" height="34" fill="#fff"/>
<rect x="1182" y="297" width="1" height="9" fill="#000"/>
<rect x="1180" y="301" width="5" height="3" fill="#000"/>
<rect x="1190" y="298" width="1" height="19" fill="#000"/>
<rect x="1188" y="300" width="5" height="14" fill="#000"/>
<rect x="1198" y="288" width="1" height="28" fill="#000"/>
<rect x="1196" y="294" width="5" height="20" fill="#000"/>
<rect x="1197" y="295" width="3" height="18" fill="#fff"/>
<rect x="1206" y="283" width="1" height="18" fill="#000"/>
<rect x="1204" y="291" width="5" height="4" fill="#000"/>
<rect x="1205" y="292" width="3" height="2" fill="#fff"/>
<rect x="1214" y="291" width="1" height="63" fill="#000"/>
<rect x="1212" y="291" width="5" height="50" fill="#000"/>
<rect x="1222" y="323" width="1" height="44" fill="#000"/>
<rect x="1220" y="340" width="5" height="11" fill="#000"/>
<rect x="1230" y="343" width="1" height="60" fill="#000"/>
<rect x="1228" y="351" width="5" height="33" fill="#000"/>
<rect x="1238" y="373" width="1" height="20" fill="#000"/>
<rect x="1236" y="373" width="5" height="11" fill="#000"/>
<rect x="1237" y="374" width="3" height="9" fill="#fff"/>
<rect x="1246" y="369" width="1" height="18" fill="#000"/>
<rect x="1244" y="373" width="5" height="6" fill="#000"/>
<rect x="1278" y="283" width="1" height="27" fill="#000"/>
<rect x="1276" y="293" width="5" height="10" fill="#000"/>
<rect x="1286" y="285" width="1" height="20" fill="#000"/>
<rect x="1284" y="289" width="5" height="13" fill="#000"/>
<rect x="1285" y="290" width="3" height="11" fill="#fff"/>
<rect x="1294" y="283" width="1" height="25" fill="#000"/>
<rect x="1292" y="290" width="5" height="10" fill="#000"/>
<rect x="1302" y="291" width="1" height="21" fill="#000"/>
<rect x="1300" y="299" width="5" height="6" fill="#000"/>
<rect x="1310" y="300" width="1" height="78" fill="#000"/>
<rect x="1308" y="304" width="5" height="69" fill="#000"/>
<rect x="1318" y="363" width="1" height="79" fill="#000"/>
<rect x="1316" y="372" width="5" height="64" fill="#000"/>
<rect x="1326" y="428" width="1" height="52" fill="#000"/>
<rect x="1324" y="435" width="5" height="43" fill="#000"/>
<rect x="1334" y="466" width="1" height="23" fill="#000"/>
<rect x="1332" y="467" width="5" height="11" fill="#000"/>
<rect x="1333" y="468" width="3" height="9" fill="#fff"/>
<rect x="1342" y="449" width="1" height="23" fill="#000"/>
<rect x="1340" y="467" width="5" height="2" fill="#000"/>
<rect x="1350" y="435" width="1" height="41" fill="#000"/>
<rect x="1348" y="448" width="5" height="21" fill="#000"/>
<rect x="1349" y="449" width="3" height="19" fill="#fff"/>
<rect x="1358" y="431" width="1" height="97" fill="#000"/>
<rect x="1356" y="448" width="5" height="1" fill="#000"/>
<rect x="1366" y="423" width="1" height="66" fill="#000"/>
<rect x="1364" y="449" width="5" height="11" fill="#000"/>
<rect x="1374" y="440" width="1" height="66" fill="#000"/>
<rect x="1372" y="453" width="5" height="6" fill="#000"/>
<rect x="1373" y="454" width="3" height="4" fill="#fff"/>
<rect x="1382" y="434" width="1" height="22" fill="#000"/>
<rect x="1380" y="443" width="5" height="10" fill="#000"/>
<rect x="1381" y="444" width="3" height="8" fill="#fff"/>
<rect x="1390" y="416" width="1" height="36" fill="#000"/>
<rect x="1388" y="417" width="5" height="29" fill="#000"/>
<rect x="1389" y="418" width="3" height="27" fill="#fff"/>
<rect x="1398" y="412" width="1" height="17" fill="#000"/>
<rect x="1396" y="417" width="5" height="2" fill="#000"/>
<rect x="1430" y="378" width="1" height="11" fill="#000"/>
<rect x="1428" y="379" width="5" height="6" fill="#000"/>
<rect x="1429" y="380" width="3" height="4" fill="#fff"/>
</g>
<g clip-path="url(#cm)">
<rect x="1406" y="394" width="1" height="26" fill="#000"/>
<rect x="1404" y="404" width="5" height="16" fill="#000"/>
<rect x="1405" y="405" width="3" height="14" fill="#fff"/>
<rect x="1414" y="378" width="1" height="50" fill="#000"/>
<rect x="1412" y="389" width="5" height="16" fill="#000"/>
<rect x="1413" y="390" width="3" height="14" fill="#fff"/>
<rect x="1422" y="375" width="1" height="25" fill="#000"/>
<rect x="1420" y="384" width="5" height="6" fill="#000"/>
<rect x="1421" y="385" width="3" height="4" fill="#fff"/>
<rect x="1254" y="374" width="1" height="32" fill="#000"/>
<rect x="1252" y="379" width="5" height="23" fill="#000"/>
<rect x="1262" y="382" width="1" height="32" fill="#000"/>
<rect x="1260" y="404" width="5" height="1" fill="#000"/>
<rect x="1270" y="271" width="1" height="141" fill="#000"/>
<rect x="1268" y="294" width="5" height="109" fill="#000"/>
<rect x="1269" y="295" width="3" height="107" fill="#fff"/>
<rect x="1247" y="399" width="206" height="11" fill="#00ff00"/>
<rect x="1318" y="363" width="1" height="79" fill="#000"/>
<rect x="1316" y="372" width="5" height="64" fill="#000"/>
</g>
<rect x="0" y="283" width="3" height="6" fill="#ff0000"/>
<rect x="0" y="285" width="1" height="2" fill="#fff"/>
<rect x="0" y="335" width="3" height="6" fill="#ff0000"/>
<rect x="0" y="337" width="1" height="2" fill="#fff"/>
<rect x="0" y="402" width="3" height="6" fill="#32cd32"/>
<rect x="0" y="404" width="1" height="2" fill="#fff"/>
<rect x="0" y="440" width="3" height="6" fill="#0000ff"/>
<rect x="0" y="442" width="1" height="2" fill="#fff"/>
<text x="1367" y="558.5" font-size="32.3" font-weight="500" font-family='"Liberation Serif","Noto Serif CJK SC",serif' fill="#101010" shape-rendering="auto">多空转折点</text>
<text x="1366" y="557.5" font-size="32.3" font-weight="500" font-family='"Liberation Serif","Noto Serif CJK SC",serif' fill="#00ff00" shape-rendering="auto">多空转折点</text>
<rect x="1495" y="405" width="8" height="1" fill="#ff0000"/>
<rect x="1505.5" y="389.5" width="99" height="32" fill="#fff" stroke="#ff0000" stroke-width="1"/>
<rect x="1502.5" y="403.5" width="2" height="3" fill="#fff" stroke="#ff0000" stroke-width="1"/>
<text x="1506.5" y="415.8" font-size="27.4" fill="#ff0000" textLength="95" lengthAdjust="spacingAndGlyphs">25786.1</text>
<rect x="0" y="29" width="1627" height="1" fill="#000"/>
<rect x="1626" y="29" width="1" height="901" fill="#000"/>
<rect x="0" y="582" width="1626" height="1" fill="#000"/>
<rect x="0" y="584" width="1626" height="1" fill="#000"/>
<rect x="0" y="767" width="1626" height="1" fill="#000"/>
<rect x="0" y="769" width="1626" height="1" fill="#000"/>
<rect x="0" y="929" width="1627" height="1" fill="#000"/>
<rect x="1671" y="27" width="2" height="922" fill="#f0f0f0"/>
<polygon points="1440,30 1450,30 1445,35" fill="#c0c0c0" shape-rendering="auto"/>
<g font-size="9.05">
<rect x="1627" y="51" width="2" height="1" fill="#000"/>
<text x="1632.3" y="54.8" font-size="9.05" fill="#000" stroke="#000" stroke-width=".15">27419.0</text>
<rect x="1627" y="84" width="2" height="1" fill="#000"/>
<text x="1632.3" y="87.8" font-size="9.05" fill="#000" stroke="#000" stroke-width=".15">27266.0</text>
<rect x="1627" y="117" width="2" height="1" fill="#000"/>
<text x="1632.3" y="120.8" font-size="9.05" fill="#000" stroke="#000" stroke-width=".15">27113.0</text>
<rect x="1627" y="150" width="2" height="1" fill="#000"/>
<text x="1632.3" y="153.8" font-size="9.05" fill="#000" stroke="#000" stroke-width=".15">26960.0</text>
<rect x="1627" y="183" width="2" height="1" fill="#000"/>
<text x="1632.3" y="186.8" font-size="9.05" fill="#000" stroke="#000" stroke-width=".15">26811.5</text>
<rect x="1627" y="216" width="2" height="1" fill="#000"/>
<text x="1632.3" y="219.8" font-size="9.05" fill="#000" stroke="#000" stroke-width=".15">26658.5</text>
<rect x="1627" y="249" width="2" height="1" fill="#000"/>
<text x="1632.3" y="252.8" font-size="9.05" fill="#000" stroke="#000" stroke-width=".15">26505.5</text>
<rect x="1627" y="282" width="2" height="1" fill="#000"/>
<text x="1632.3" y="285.8" font-size="9.05" fill="#000" stroke="#000" stroke-width=".15">26352.5</text>
<rect x="1627" y="315" width="2" height="1" fill="#000"/>
<text x="1632.3" y="318.8" font-size="9.05" fill="#000" stroke="#000" stroke-width=".15">26199.5</text>
<rect x="1627" y="348" width="2" height="1" fill="#000"/>
<text x="1632.3" y="351.8" font-size="9.05" fill="#000" stroke="#000" stroke-width=".15">26046.5</text>
<rect x="1627" y="381" width="2" height="1" fill="#000"/>
<text x="1632.3" y="384.8" font-size="9.05" fill="#000" stroke="#000" stroke-width=".15">25893.5</text>
<rect x="1627" y="414" width="2" height="1" fill="#000"/>
<text x="1632.3" y="417.8" font-size="9.05" fill="#000" stroke="#000" stroke-width=".15">25745.0</text>
<rect x="1627" y="447" width="2" height="1" fill="#000"/>
<text x="1632.3" y="450.8" font-size="9.05" fill="#000" stroke="#000" stroke-width=".15">25592.0</text>
<rect x="1627" y="480" width="2" height="1" fill="#000"/>
<text x="1632.3" y="483.8" font-size="9.05" fill="#000" stroke="#000" stroke-width=".15">25439.0</text>
<rect x="1627" y="513" width="2" height="1" fill="#000"/>
<text x="1632.3" y="516.8" font-size="9.05" fill="#000" stroke="#000" stroke-width=".15">25286.0</text>
<rect x="1627" y="546" width="2" height="1" fill="#000"/>
<text x="1632.3" y="549.8" font-size="9.05" fill="#000" stroke="#000" stroke-width=".15">25133.0</text>
<rect x="1627" y="579" width="2" height="1" fill="#000"/>
<text x="1632.3" y="582.8" font-size="9.05" fill="#000" stroke="#000" stroke-width=".15">24984.5</text>
<rect x="1628" y="280" width="41" height="11" fill="#ff0000"/>
<text x="1632.3" y="288.8" font-size="9.05" fill="#fff" stroke="#fff" stroke-width=".15">26334.1</text>
<rect x="1628" y="332" width="41" height="11" fill="#ff0000"/>
<text x="1632.3" y="340.8" font-size="9.05" fill="#fff" stroke="#fff" stroke-width=".15">26094.6</text>
<rect x="1628" y="374" width="41" height="11" fill="#000"/>
<text x="1632.3" y="382.8" font-size="9.05" fill="#fff" stroke="#fff" stroke-width=".15">25907.0</text>
<rect x="1628" y="399" width="41" height="11" fill="#32cd32"/>
<text x="1632.3" y="407.8" font-size="9.05" fill="#fff" stroke="#fff" stroke-width=".15">25786.1</text>
<rect x="1628" y="437" width="41" height="11" fill="#0000ff"/>
<text x="1632.3" y="445.8" font-size="9.05" fill="#fff" stroke="#fff" stroke-width=".15">25611.1</text>
<rect x="1628" y="479" width="41" height="11" fill="#0000ff"/>
<text x="1632.3" y="487.8" font-size="9.05" fill="#fff" stroke="#fff" stroke-width=".15">25414.3</text>
<rect x="1620" y="283" width="6" height="6" fill="#ff0000"/>
<rect x="1622" y="285" width="2" height="2" fill="#fff"/>
<rect x="1620" y="335" width="6" height="6" fill="#ff0000"/>
<rect x="1622" y="337" width="2" height="2" fill="#fff"/>
<rect x="1620" y="402" width="6" height="6" fill="#32cd32"/>
<rect x="1622" y="404" width="2" height="2" fill="#fff"/>
<rect x="1620" y="440" width="6" height="6" fill="#0000ff"/>
<rect x="1622" y="442" width="2" height="2" fill="#fff"/>
<text x="1630" y="596" font-size="9.05" fill="#000" stroke="#000" stroke-width=".15">163.29</text>
<text x="1630" y="642" font-size="9.05" fill="#000" stroke="#000" stroke-width=".15">0.00</text>
<text x="1630" y="764" font-size="9.05" fill="#000" stroke="#000" stroke-width=".15">-396.51</text>
<rect x="1627" y="585" width="3" height="1" fill="#000"/>
<text x="1630" y="780" font-size="9.05" fill="#000" stroke="#000" stroke-width=".15">100</text>
<text x="1630" y="806" font-size="9.05" fill="#000" stroke="#000" stroke-width=".15">80</text>
<text x="1630" y="853" font-size="9.05" fill="#000" stroke="#000" stroke-width=".15">50</text>
<text x="1630" y="909" font-size="9.05" fill="#000" stroke="#000" stroke-width=".15">15</text>
<text x="1630" y="926" font-size="9.05" fill="#000" stroke="#000" stroke-width=".15">0</text>
</g>
<rect x="6" y="638" width="1" height="6" fill="#c0c0c0"/>
<rect x="14" y="638" width="1" height="9" fill="#c0c0c0"/>
<rect x="22" y="638" width="1" height="11" fill="#c0c0c0"/>
<rect x="30" y="638" width="1" height="12" fill="#c0c0c0"/>
<rect x="38" y="638" width="1" height="11" fill="#c0c0c0"/>
<rect x="46" y="638" width="1" height="10" fill="#c0c0c0"/>
<rect x="54" y="638" width="1" height="9" fill="#c0c0c0"/>
<rect x="62" y="638" width="1" height="9" fill="#c0c0c0"/>
<rect x="70" y="638" width="1" height="10" fill="#c0c0c0"/>
<rect x="78" y="638" width="1" height="7" fill="#c0c0c0"/>
<rect x="86" y="638" width="1" height="5" fill="#c0c0c0"/>
<rect x="94" y="638" width="1" height="2" fill="#c0c0c0"/>
<rect x="102" y="637" width="1" height="2" fill="#c0c0c0"/>
<rect x="110" y="634" width="1" height="5" fill="#c0c0c0"/>
<rect x="118" y="632" width="1" height="7" fill="#c0c0c0"/>
<rect x="126" y="628" width="1" height="11" fill="#c0c0c0"/>
<rect x="134" y="624" width="1" height="15" fill="#c0c0c0"/>
<rect x="142" y="620" width="1" height="19" fill="#c0c0c0"/>
<rect x="150" y="616" width="1" height="23" fill="#c0c0c0"/>
<rect x="158" y="613" width="1" height="26" fill="#c0c0c0"/>
<rect x="166" y="611" width="1" height="28" fill="#c0c0c0"/>
<rect x="174" y="608" width="1" height="31" fill="#c0c0c0"/>
<rect x="182" y="603" width="1" height="36" fill="#c0c0c0"/>
<rect x="190" y="601" width="1" height="38" fill="#c0c0c0"/>
<rect x="198" y="599" width="1" height="40" fill="#c0c0c0"/>
<rect x="206" y="597" width="1" height="42" fill="#c0c0c0"/>
<rect x="214" y="595" width="1" height="44" fill="#c0c0c0"/>
<rect x="222" y="594" width="1" height="45" fill="#c0c0c0"/>
<rect x="230" y="595" width="1" height="44" fill="#c0c0c0"/>
<rect x="238" y="597" width="1" height="42" fill="#c0c0c0"/>
<rect x="246" y="597" width="1" height="42" fill="#c0c0c0"/>
<rect x="254" y="599" width="1" height="40" fill="#c0c0c0"/>
<rect x="262" y="599" width="1" height="40" fill="#c0c0c0"/>
<rect x="270" y="601" width="1" height="38" fill="#c0c0c0"/>
<rect x="278" y="603" width="1" height="36" fill="#c0c0c0"/>
<rect x="286" y="606" width="1" height="33" fill="#c0c0c0"/>
<rect x="294" y="608" width="1" height="31" fill="#c0c0c0"/>
<rect x="302" y="610" width="1" height="29" fill="#c0c0c0"/>
<rect x="310" y="611" width="1" height="28" fill="#c0c0c0"/>
<rect x="318" y="613" width="1" height="26" fill="#c0c0c0"/>
<rect x="326" y="616" width="1" height="23" fill="#c0c0c0"/>
<rect x="334" y="620" width="1" height="19" fill="#c0c0c0"/>
<rect x="342" y="625" width="1" height="14" fill="#c0c0c0"/>
<rect x="350" y="630" width="1" height="9" fill="#c0c0c0"/>
<rect x="358" y="632" width="1" height="7" fill="#c0c0c0"/>
<rect x="366" y="634" width="1" height="5" fill="#c0c0c0"/>
<rect x="390" y="637" width="1" height="2" fill="#c0c0c0"/>
<rect x="398" y="636" width="1" height="3" fill="#c0c0c0"/>
<rect x="406" y="634" width="1" height="5" fill="#c0c0c0"/>
<rect x="414" y="634" width="1" height="5" fill="#c0c0c0"/>
<rect x="422" y="634" width="1" height="5" fill="#c0c0c0"/>
<rect x="430" y="636" width="1" height="3" fill="#c0c0c0"/>
<rect x="446" y="638" width="1" height="3" fill="#c0c0c0"/>
<rect x="454" y="638" width="1" height="4" fill="#c0c0c0"/>
<rect x="462" y="638" width="1" height="5" fill="#c0c0c0"/>
<rect x="470" y="638" width="1" height="5" fill="#c0c0c0"/>
<rect x="478" y="638" width="1" height="6" fill="#c0c0c0"/>
<rect x="486" y="638" width="1" height="6" fill="#c0c0c0"/>
<rect x="494" y="638" width="1" height="6" fill="#c0c0c0"/>
<rect x="502" y="638" width="1" height="5" fill="#c0c0c0"/>
<rect x="510" y="638" width="1" height="4" fill="#c0c0c0"/>
<rect x="534" y="637" width="1" height="2" fill="#c0c0c0"/>
<rect x="542" y="634" width="1" height="5" fill="#c0c0c0"/>
<rect x="550" y="631" width="1" height="8" fill="#c0c0c0"/>
<rect x="558" y="631" width="1" height="8" fill="#c0c0c0"/>
<rect x="566" y="633" width="1" height="6" fill="#c0c0c0"/>
<rect x="574" y="635" width="1" height="4" fill="#c0c0c0"/>
<rect x="582" y="636" width="1" height="3" fill="#c0c0c0"/>
<rect x="590" y="635" width="1" height="4" fill="#c0c0c0"/>
<rect x="598" y="634" width="1" height="5" fill="#c0c0c0"/>
<rect x="606" y="633" width="1" height="6" fill="#c0c0c0"/>
<rect x="614" y="632" width="1" height="7" fill="#c0c0c0"/>
<rect x="622" y="637" width="1" height="2" fill="#c0c0c0"/>
<rect x="630" y="637" width="1" height="2" fill="#c0c0c0"/>
<rect x="638" y="638" width="1" height="4" fill="#c0c0c0"/>
<rect x="646" y="638" width="1" height="5" fill="#c0c0c0"/>
<rect x="654" y="638" width="1" height="6" fill="#c0c0c0"/>
<rect x="662" y="638" width="1" height="5" fill="#c0c0c0"/>
<rect x="670" y="638" width="1" height="7" fill="#c0c0c0"/>
<rect x="678" y="638" width="1" height="7" fill="#c0c0c0"/>
<rect x="686" y="638" width="1" height="7" fill="#c0c0c0"/>
<rect x="694" y="638" width="1" height="7" fill="#c0c0c0"/>
<rect x="702" y="638" width="1" height="8" fill="#c0c0c0"/>
<rect x="710" y="638" width="1" height="8" fill="#c0c0c0"/>
<rect x="718" y="638" width="1" height="7" fill="#c0c0c0"/>
<rect x="726" y="638" width="1" height="4" fill="#c0c0c0"/>
<rect x="734" y="638" width="1" height="3" fill="#c0c0c0"/>
<rect x="742" y="638" width="1" height="2" fill="#c0c0c0"/>
<rect x="750" y="638" width="1" height="2" fill="#c0c0c0"/>
<rect x="758" y="638" width="1" height="2" fill="#c0c0c0"/>
<rect x="766" y="638" width="1" height="4" fill="#c0c0c0"/>
<rect x="774" y="638" width="1" height="4" fill="#c0c0c0"/>
<rect x="782" y="638" width="1" height="4" fill="#c0c0c0"/>
<rect x="790" y="638" width="1" height="3" fill="#c0c0c0"/>
<rect x="798" y="638" width="1" height="2" fill="#c0c0c0"/>
<rect x="830" y="638" width="1" height="9" fill="#c0c0c0"/>
<rect x="838" y="638" width="1" height="17" fill="#c0c0c0"/>
<rect x="846" y="638" width="1" height="21" fill="#c0c0c0"/>
<rect x="854" y="638" width="1" height="25" fill="#c0c0c0"/>
<rect x="862" y="638" width="1" height="26" fill="#c0c0c0"/>
<rect x="870" y="638" width="1" height="22" fill="#c0c0c0"/>
<rect x="878" y="638" width="1" height="33" fill="#c0c0c0"/>
<rect x="886" y="638" width="1" height="42" fill="#c0c0c0"/>
<rect x="894" y="638" width="1" height="48" fill="#c0c0c0"/>
<rect x="902" y="638" width="1" height="54" fill="#c0c0c0"/>
<rect x="910" y="638" width="1" height="58" fill="#c0c0c0"/>
<rect x="918" y="638" width="1" height="64" fill="#c0c0c0"/>
<rect x="926" y="638" width="1" height="65" fill="#c0c0c0"/>
<rect x="934" y="638" width="1" height="64" fill="#c0c0c0"/>
<rect x="942" y="638" width="1" height="65" fill="#c0c0c0"/>
<rect x="950" y="638" width="1" height="70" fill="#c0c0c0"/>
<rect x="958" y="638" width="1" height="74" fill="#c0c0c0"/>
<rect x="966" y="638" width="1" height="78" fill="#c0c0c0"/>
<rect x="974" y="638" width="1" height="86" fill="#c0c0c0"/>
<rect x="982" y="638" width="1" height="96" fill="#c0c0c0"/>
<rect x="990" y="638" width="1" height="119" fill="#c0c0c0"/>
<rect x="998" y="638" width="1" height="120" fill="#c0c0c0"/>
<rect x="1006" y="638" width="1" height="120" fill="#c0c0c0"/>
<rect x="1014" y="638" width="1" height="114" fill="#c0c0c0"/>
<rect x="1022" y="638" width="1" height="109" fill="#c0c0c0"/>
<rect x="1030" y="638" width="1" height="99" fill="#c0c0c0"/>
<rect x="1038" y="638" width="1" height="93" fill="#c0c0c0"/>
<rect x="1046" y="638" width="1" height="88" fill="#c0c0c0"/>
<rect x="1054" y="638" width="1" height="80" fill="#c0c0c0"/>
<rect x="1062" y="638" width="1" height="73" fill="#c0c0c0"/>
<rect x="1070" y="638" width="1" height="74" fill="#c0c0c0"/>
<rect x="1078" y="638" width="1" height="66" fill="#c0c0c0"/>
<rect x="1086" y="638" width="1" height="61" fill="#c0c0c0"/>
<rect x="1094" y="638" width="1" height="52" fill="#c0c0c0"/>
<rect x="1102" y="638" width="1" height="46" fill="#c0c0c0"/>
<rect x="1110" y="638" width="1" height="41" fill="#c0c0c0"/>
<rect x="1118" y="638" width="1" height="29" fill="#c0c0c0"/>
<rect x="1126" y="638" width="1" height="18" fill="#c0c0c0"/>
<rect x="1134" y="638" width="1" height="8" fill="#c0c0c0"/>
<rect x="1142" y="638" width="1" height="3" fill="#c0c0c0"/>
<rect x="1158" y="636" width="1" height="3" fill="#c0c0c0"/>
<rect x="1166" y="637" width="1" height="2" fill="#c0c0c0"/>
<rect x="1174" y="634" width="1" height="5" fill="#c0c0c0"/>
<rect x="1182" y="632" width="1" height="7" fill="#c0c0c0"/>
<rect x="1190" y="630" width="1" height="9" fill="#c0c0c0"/>
<rect x="1198" y="629" width="1" height="10" fill="#c0c0c0"/>
<rect x="1206" y="627" width="1" height="12" fill="#c0c0c0"/>
<rect x="1214" y="631" width="1" height="8" fill="#c0c0c0"/>
<rect x="1222" y="636" width="1" height="3" fill="#c0c0c0"/>
<rect x="1230" y="638" width="1" height="4" fill="#c0c0c0"/>
<rect x="1238" y="638" width="1" height="9" fill="#c0c0c0"/>
<rect x="1246" y="638" width="1" height="14" fill="#c0c0c0"/>
<rect x="1254" y="638" width="1" height="19" fill="#c0c0c0"/>
<rect x="1262" y="638" width="1" height="24" fill="#c0c0c0"/>
<rect x="1270" y="638" width="1" height="14" fill="#c0c0c0"/>
<rect x="1278" y="638" width="1" height="7" fill="#c0c0c0"/>
<rect x="1294" y="634" width="1" height="5" fill="#c0c0c0"/>
<rect x="1302" y="631" width="1" height="8" fill="#c0c0c0"/>
<rect x="1310" y="637" width="1" height="2" fill="#c0c0c0"/>
<rect x="1318" y="638" width="1" height="12" fill="#c0c0c0"/>
<rect x="1326" y="638" width="1" height="26" fill="#c0c0c0"/>
<rect x="1334" y="638" width="1" height="36" fill="#c0c0c0"/>
<rect x="1342" y="638" width="1" height="44" fill="#c0c0c0"/>
<rect x="1350" y="638" width="1" height="47" fill="#c0c0c0"/>
<rect x="1358" y="638" width="1" height="49" fill="#c0c0c0"/>
<rect x="1366" y="638" width="1" height="50" fill="#c0c0c0"/>
<rect x="1374" y="638" width="1" height="51" fill="#c0c0c0"/>
<rect x="1382" y="638" width="1" height="49" fill="#c0c0c0"/>
<rect x="1390" y="638" width="1" height="45" fill="#c0c0c0"/>
<rect x="1398" y="638" width="1" height="41" fill="#c0c0c0"/>
<rect x="1406" y="638" width="1" height="35" fill="#c0c0c0"/>
<rect x="1414" y="638" width="1" height="29" fill="#c0c0c0"/>
<rect x="1422" y="638" width="1" height="23" fill="#c0c0c0"/>
<rect x="1430" y="638" width="1" height="17" fill="#c0c0c0"/>
<path d="M253 596.5h2M258 596.5h3M246 597.5h3M264 597.5h3M270 597.5h3M276 597.5h3M282 597.5h3M240 598.5h3M288 598.5h3M234 599.5h3M294 599.5h2M229 600.5h2M300 601.5h3M222 602.5h2M306 602.5h3M216 603.5h3M312 603.5h2M210 605.5h2M319 605.5h2M324 606.5h3M204 607.5h2M330 607.5h3M198 609.5h2M336 609.5h3M192 611.5h2M342 611.5h3M348 613.5h3M186 614.5h2M354 615.5h3M180 617.5h2M360 617.5h3M175 619.5h2M367 620.5h2M169 622.5h2M373 623.5h2M162 625.5h2M378 625.5h2M157 627.5h2M384 628.5h2M150 630.5h2M0 631.5h2M390 631.5h3M1218 631.5h3M1224 631.5h2M145 632.5h2M396 632.5h3M1212 632.5h3M1230 632.5h3M6 633.5h2M403 633.5h2M408 633.5h3M594 633.5h3M600 633.5h3M606 633.5h3M612 633.5h3M618 633.5h3M1206 633.5h3M1236 633.5h3M414 634.5h3M588 634.5h3M624 634.5h3M630 634.5h3M1200 634.5h3M1242 634.5h2M12 635.5h2M139 635.5h2M421 635.5h2M426 635.5h3M432 635.5h3M576 635.5h3M582 635.5h2M636 635.5h3M1194 635.5h3M438 636.5h3M444 636.5h3M450 636.5h3M564 636.5h3M570 636.5h3M643 636.5h2M648 636.5h2M1248 636.5h3M18 637.5h2M457 637.5h2M462 637.5h3M558 637.5h3M654 637.5h3M1189 637.5h2M132 638.5h2M469 638.5h2M474 638.5h3M553 638.5h2M660 638.5h3M24 639.5h2M126 639.5h3M480 639.5h2M666 639.5h3M546 640.5h2M672 640.5h2M816 640.5h3M822 640.5h3M30 641.5h3M120 641.5h2M486 641.5h3M540 641.5h3M678 641.5h2M780 641.5h3M786 641.5h3M792 641.5h3M798 641.5h3M804 641.5h3M810 641.5h3M828 641.5h3M1182 641.5h2M36 642.5h2M114 642.5h3M493 642.5h2M498 642.5h3M528 642.5h3M534 642.5h3M684 642.5h3M762 642.5h3M768 642.5h3M774 642.5h2M834 642.5h3M1260 642.5h2M108 643.5h3M504 643.5h3M510 643.5h3M516 643.5h3M522 643.5h3M690 643.5h3M744 643.5h3M750 643.5h3M756 643.5h3M840 643.5h3M43 644.5h2M102 644.5h3M696 644.5h3M732 644.5h3M738 644.5h3M846 644.5h2M1177 644.5h2M1266 644.5h3M48 645.5h3M96 645.5h3M703 645.5h2M708 645.5h3M714 645.5h3M720 645.5h3M726 645.5h3M1308 645.5h3M1314 645.5h3M54 646.5h3M90 646.5h3M852 646.5h3M1273 646.5h2M1297 646.5h2M1302 646.5h3M1320 646.5h3M1326 646.5h2M60 647.5h3M66 647.5h2M79 647.5h2M84 647.5h3M858 647.5h2M1278 647.5h3M1291 647.5h2M72 648.5h3M1284 648.5h3M1332 648.5h3M864 649.5h3M1339 650.5h2M871 652.5h2M1345 653.5h2M877 655.5h2M1351 656.5h2M883 658.5h2M888 661.5h2M913 677.5h2M1428 677.5h3M1381 678.5h2M1422 679.5h2M919 680.5h2M1386 680.5h2M1417 680.5h2M1392 682.5h3M1410 682.5h3M1398 683.5h3M1404 683.5h3M931 687.5h2M936 690.5h2M942 693.5h2M948 696.5h2M954 699.5h3M960 701.5h2M1111 702.5h2M967 704.5h2M972 706.5h2M1105 706.5h2M979 709.5h2M1099 710.5h2M985 714.5h2M1092 715.5h2M997 724.5h2M1002 728.5h2M1074 730.5h2M1008 732.5h2M1014 735.5h2M1062 738.5h2M1021 739.5h2M1026 741.5h3M1056 741.5h2M1032 742.5h3M1038 743.5h3M1050 743.5h3M1044 744.5h3M2.5 632v1M8.5 634v1M14.5 636v1M20.5 638v1M26.5 640v1M38.5 643v1M42.5 643v1M68.5 648v1M78.5 648v1M122.5 640v1M134.5 637v1M138.5 636v1M144.5 633v1M152.5 629v1M156.5 628v1M164.5 624v1M168.5 623v1M174.5 620v1M182.5 616v1M188.5 613v1M194.5 610v1M200.5 608v1M206.5 606v1M212.5 604v1M224.5 601v1M228.5 601v1M252.5 597v1M296.5 600v1M314.5 604v1M318.5 604v1M366.5 619v1M372.5 622v1M380.5 626v1M386.5 629v1M402.5 632v1M420.5 634v1M456.5 636v1M468.5 637v1M482.5 640v1M492.5 641v1M548.5 639v1M552.5 639v1M584.5 634v1M642.5 635v1M650.5 637v1M674.5 641v1M680.5 642v1M702.5 644v1M776.5 641v1M848.5 645v1M860.5 648v1M870.5 651v1M876.5 654v1M882.5 657v1M890.5 662v1M894.5 664v1M895.5 665v1M896.5 666v1M900.5 668v1M901.5 669v1M902.5 670v1M906.5 672v1M907.5 673v1M908.5 674v1M912.5 676v1M918.5 679v1M924.5 682v1M925.5 683v1M926.5 684v1M930.5 686v1M938.5 691v1M944.5 694v1M950.5 697v1M962.5 702v1M966.5 703v1M974.5 707v1M978.5 708v1M984.5 713v1M990.5 718v1M991.5 719v1M992.5 720v1M996.5 723v1M1004.5 729v1M1010.5 733v1M1016.5 736v1M1020.5 738v1M1058.5 740v1M1064.5 737v1M1068.5 735v1M1069.5 734v1M1070.5 733v1M1076.5 729v1M1080.5 725v1M1081.5 724v1M1082.5 723v1M1086.5 720v1M1087.5 719v1M1088.5 718v1M1094.5 714v1M1098.5 711v1M1104.5 707v1M1110.5 703v1M1116.5 699v1M1117.5 698v1M1118.5 697v1M1122.5 693v1M1123.5 692v1M1124.5 691v1M1128.5 687v1M1129.5 686v1M1130.5 685v1M1134.5 681v1M1135.5 680v1M1136.5 679v1M1140.5 676v1M1141.5 675v1M1142.5 674v1M1146.5 670v1M1147.5 669v1M1148.5 668v1M1152.5 665v1M1153.5 664v1M1154.5 663v1M1158.5 660v1M1159.5 659v1M1160.5 658v1M1164.5 655v1M1165.5 654v1M1166.5 653v1M1170.5 650v1M1171.5 649v1M1172.5 648v1M1176.5 645v1M1184.5 640v1M1188.5 638v1M1226.5 632v1M1244.5 635v1M1254.5 638v1M1255.5 639v1M1256.5 640v1M1262.5 643v1M1272.5 645v1M1290.5 648v1M1296.5 647v1M1328.5 647v1M1338.5 649v1M1344.5 652v1M1350.5 655v1M1356.5 659v1M1357.5 660v1M1358.5 661v1M1362.5 663v1M1363.5 664v1M1364.5 665v1M1368.5 668v1M1369.5 669v1M1370.5 670v1M1374.5 673v1M1375.5 674v1M1376.5 675v1M1380.5 677v1M1388.5 681v1M1416.5 681v1M1424.5 678v1" fill="none" stroke="#ff0000" stroke-width="1"/>
<text x="2" y="597" font-size="9.05" fill="#000" stroke="#000" stroke-width=".15">MACD(12,26,9) -52.50 -115.69</text>
<line x1="0" y1="802.5" x2="1626" y2="802.5" stroke="#c0c0c0" stroke-width="1" stroke-dasharray="3 3"/>
<line x1="0" y1="849.5" x2="1626" y2="849.5" stroke="#c0c0c0" stroke-width="1" stroke-dasharray="3 3"/>
<line x1="0" y1="905.5" x2="1626" y2="905.5" stroke="#c0c0c0" stroke-width="1" stroke-dasharray="3 3"/>
<path d="M180 802.5h2M183 802.5h2M213 802.5h3M185 803.5h2M210 803.5h3M216 803.5h2M187 804.5h2M208 804.5h2M218 804.5h3M176 805.5h2M189 805.5h3M205 805.5h3M221 805.5h2M192 806.5h2M202 806.5h3M194 807.5h3M200 807.5h2M172 808.5h2M197 808.5h3M170 809.5h2M148 810.5h2M151 810.5h2M146 811.5h2M153 811.5h2M167 811.5h2M155 812.5h2M162 812.5h5M143 813.5h2M157 813.5h5M140 814.5h3M242 814.5h8M136 815.5h4M237 815.5h5M250 815.5h5M269 815.5h2M130 816.5h6M235 816.5h2M255 816.5h2M267 816.5h2M126 817.5h4M233 817.5h2M257 817.5h2M265 817.5h2M231 818.5h2M259 818.5h2M263 818.5h2M261 819.5h2M309 824.5h3M306 825.5h3M312 825.5h4M304 826.5h2M316 826.5h3M278 827.5h12M298 827.5h6M290 828.5h8M114 831.5h2M103 832.5h2M105 833.5h2M534 833.5h4M546 833.5h5M98 834.5h2M107 834.5h2M538 834.5h8M109 835.5h2M613 835.5h2M404 836.5h3M400 837.5h4M78 838.5h2M92 838.5h3M398 838.5h2M1125 838.5h5M1285 838.5h3M80 839.5h4M88 839.5h4M396 839.5h2M1122 839.5h3M1130 839.5h6M1270 839.5h2M1282 839.5h3M1288 839.5h2M84 840.5h4M394 840.5h2M410 840.5h2M1120 840.5h2M1136 840.5h2M1272 840.5h4M1280 840.5h2M1290 840.5h3M796 841.5h2M799 841.5h2M1118 841.5h2M1138 841.5h3M1202 841.5h5M1276 841.5h4M1293 841.5h5M391 842.5h2M597 842.5h5M794 842.5h2M801 842.5h2M1141 842.5h5M1197 842.5h5M1298 842.5h5M414 843.5h2M594 843.5h3M602 843.5h5M746 843.5h5M803 843.5h2M810 843.5h5M1146 843.5h6M1174 843.5h4M1195 843.5h2M416 844.5h2M592 844.5h2M741 844.5h5M791 844.5h2M805 844.5h5M815 844.5h2M1152 844.5h4M1178 844.5h6M1193 844.5h2M1426 844.5h5M418 845.5h3M588 845.5h4M730 845.5h2M739 845.5h2M1156 845.5h3M1184 845.5h4M1191 845.5h2M1421 845.5h5M386 846.5h2M421 846.5h2M584 846.5h4M737 846.5h2M788 846.5h2M818 846.5h2M1188 846.5h3M1418 846.5h3M506 847.5h5M582 847.5h2M735 847.5h2M820 847.5h2M1160 847.5h2M1416 847.5h2M502 848.5h4M1413 848.5h3M500 849.5h2M784 849.5h2M1411 849.5h2M498 850.5h2M1164 850.5h2M1409 850.5h2M1094 851.5h4M1407 851.5h2M495 852.5h2M567 852.5h2M716 852.5h2M1092 852.5h2M1098 852.5h8M38 853.5h2M468 853.5h2M492 853.5h3M569 853.5h2M714 853.5h2M1106 853.5h5M1404 853.5h2M40 854.5h4M488 854.5h4M571 854.5h2M662 854.5h2M1214 854.5h2M1402 854.5h2M44 855.5h11M485 855.5h3M573 855.5h2M664 855.5h2M676 855.5h4M711 855.5h2M1078 855.5h2M1088 855.5h2M1216 855.5h2M335 856.5h2M464 856.5h2M474 856.5h2M483 856.5h2M666 856.5h3M672 856.5h4M680 856.5h2M1080 856.5h4M1218 856.5h3M1390 856.5h4M1399 856.5h2M56 857.5h2M364 857.5h2M481 857.5h2M658 857.5h2M669 857.5h3M682 857.5h3M708 857.5h2M1084 857.5h3M1221 857.5h2M1394 857.5h5M338 858.5h2M362 858.5h2M461 858.5h2M479 858.5h2M685 858.5h10M1054 858.5h2M340 859.5h2M445 859.5h3M458 859.5h3M646 859.5h2M695 859.5h2M1056 859.5h4M60 860.5h2M359 860.5h2M430 860.5h2M442 860.5h3M448 860.5h4M456 860.5h2M644 860.5h2M648 860.5h4M697 860.5h2M704 860.5h2M773 860.5h2M1031 860.5h2M1060 860.5h3M62 861.5h2M343 861.5h2M357 861.5h2M432 861.5h4M440 861.5h2M452 861.5h4M642 861.5h2M652 861.5h3M699 861.5h2M771 861.5h2M1226 861.5h2M1237 861.5h5M64 862.5h2M345 862.5h2M354 862.5h3M436 862.5h4M626 862.5h6M701 862.5h2M769 862.5h2M1034 862.5h2M1234 862.5h3M1242 862.5h5M66 863.5h3M347 863.5h2M352 863.5h2M622 863.5h4M632 863.5h4M639 863.5h2M767 863.5h2M1036 863.5h2M1232 863.5h2M69 864.5h2M349 864.5h3M636 864.5h3M1038 864.5h2M1230 864.5h2M1248 864.5h2M1040 865.5h4M1381 865.5h2M1044 866.5h3M1378 866.5h3M1252 867.5h2M1258 867.5h5M1376 867.5h2M1014 868.5h4M1254 868.5h4M1350 868.5h10M1372 868.5h4M29 869.5h2M1018 869.5h5M1348 869.5h2M1360 869.5h4M1368 869.5h4M26 870.5h3M1364 870.5h4M24 871.5h2M21 872.5h3M861 872.5h2M1344 872.5h2M19 873.5h2M858 873.5h3M17 874.5h2M846 874.5h4M856 874.5h2M1322 874.5h2M1333 874.5h10M6 875.5h4M15 875.5h2M850 875.5h6M1330 875.5h3M10 876.5h5M926 876.5h10M1002 876.5h5M1328 876.5h2M936 877.5h4M998 877.5h4M1326 877.5h2M940 878.5h3M878 880.5h2M880 881.5h4M908 881.5h3M884 882.5h14M904 882.5h4M898 883.5h6M830 885.5h2M914 885.5h2M832 886.5h2M834 887.5h3M950 887.5h4M837 888.5h2M954 888.5h8M962 889.5h5M975 898.5h2M977 899.5h2M979 900.5h2M981 901.5h2M989 908.5h2M0.5 868v1M1.5 869v1M2.5 870v2M3.5 872v1M4.5 873v1M5.5 874v1M31.5 867v2M32.5 865v2M33.5 863v2M34.5 861v2M35.5 859v2M36.5 857v2M37.5 855v2M38.5 854v1M55.5 856v1M58.5 858v1M59.5 859v1M70.5 863v1M71.5 860v3M72.5 856v4M73.5 853v3M74.5 850v3M75.5 847v3M76.5 843v4M77.5 840v3M78.5 839v1M95.5 837v1M96.5 836v1M97.5 835v1M100.5 833v1M101.5 832v1M102.5 831v1M111.5 834v1M112.5 833v1M113.5 832v1M116.5 830v1M117.5 829v1M118.5 828v1M119.5 826v2M120.5 825v1M121.5 824v1M122.5 822v2M123.5 821v1M124.5 820v1M125.5 818v2M145.5 812v1M150.5 809v1M169.5 810v1M174.5 807v1M175.5 806v1M178.5 804v1M179.5 803v1M182.5 801v1M223.5 806v2M224.5 808v2M225.5 810v2M226.5 812v1M227.5 813v2M228.5 815v2M229.5 817v2M230.5 819v1M271.5 816v2M272.5 818v1M273.5 819v2M274.5 821v1M275.5 822v2M276.5 824v1M277.5 825v2M319.5 827v2M320.5 829v2M321.5 831v2M322.5 833v1M323.5 834v2M324.5 836v2M325.5 838v2M326.5 840v1M327.5 841v2M328.5 843v2M329.5 845v2M330.5 847v2M331.5 849v2M332.5 851v2M333.5 853v2M334.5 855v1M337.5 857v1M342.5 860v1M361.5 859v1M366.5 856v1M367.5 857v2M368.5 859v2M369.5 861v2M370.5 863v2M371.5 865v2M372.5 867v2M373.5 869v2M374.5 871v2M375.5 868v3M376.5 866v2M377.5 863v3M378.5 860v3M379.5 857v3M380.5 855v2M381.5 852v3M382.5 850v2M383.5 849v1M384.5 848v1M385.5 847v1M388.5 845v1M389.5 844v1M390.5 843v1M393.5 841v1M407.5 837v1M408.5 838v1M409.5 839v1M412.5 841v1M413.5 842v1M423.5 847v2M424.5 849v2M425.5 851v2M426.5 853v1M427.5 854v2M428.5 856v2M429.5 858v2M463.5 857v1M466.5 855v1M467.5 854v1M470.5 852v1M471.5 853v1M472.5 854v1M473.5 855v1M476.5 857v1M477.5 858v1M478.5 859v1M497.5 851v1M511.5 846v1M512.5 845v1M513.5 844v1M514.5 843v1M515.5 842v1M516.5 841v1M517.5 840v1M518.5 839v1M519.5 840v1M520.5 841v2M521.5 843v1M522.5 844v1M523.5 845v1M524.5 846v2M525.5 848v1M526.5 849v1M527.5 847v2M528.5 845v2M529.5 843v2M530.5 841v2M531.5 839v2M532.5 837v2M533.5 835v2M534.5 834v1M551.5 834v1M552.5 835v1M553.5 836v1M554.5 837v2M555.5 839v1M556.5 840v1M557.5 841v1M558.5 842v1M559.5 843v1M560.5 844v1M561.5 845v1M562.5 846v2M563.5 848v1M564.5 849v1M565.5 850v1M566.5 851v1M575.5 854v1M576.5 853v1M577.5 852v1M578.5 851v1M579.5 850v1M580.5 849v1M581.5 848v1M607.5 842v1M608.5 841v1M609.5 840v1M610.5 838v2M611.5 837v1M612.5 836v1M614.5 834v1M615.5 836v4M616.5 840v4M617.5 844v3M618.5 847v4M619.5 851v3M620.5 854v4M621.5 858v4M622.5 862v1M641.5 862v1M655.5 860v1M656.5 859v1M657.5 858v1M660.5 856v1M661.5 855v1M703.5 861v1M706.5 859v1M707.5 858v1M710.5 856v1M713.5 854v1M718.5 851v1M719.5 850v1M720.5 848v2M721.5 847v1M722.5 846v1M723.5 845v1M724.5 843v2M725.5 842v1M726.5 841v1M727.5 842v1M728.5 843v1M729.5 844v1M732.5 846v1M733.5 847v1M734.5 848v1M751.5 844v1M752.5 845v1M753.5 846v1M754.5 847v2M755.5 849v1M756.5 850v1M757.5 851v1M758.5 852v1M759.5 853v2M760.5 855v1M761.5 856v2M762.5 858v1M763.5 859v2M764.5 861v1M765.5 862v2M766.5 864v1M775.5 859v1M776.5 858v1M777.5 857v1M778.5 855v2M779.5 854v1M780.5 853v1M781.5 852v1M782.5 851v1M783.5 850v1M786.5 848v1M787.5 847v1M790.5 845v1M793.5 843v1M798.5 840v1M817.5 845v1M822.5 848v3M823.5 851v4M824.5 855v5M825.5 860v5M826.5 865v4M827.5 869v5M828.5 874v5M829.5 879v4M830.5 883v2M839.5 886v2M840.5 884v2M841.5 882v2M842.5 881v1M843.5 879v2M844.5 877v2M845.5 875v2M862.5 871v1M863.5 868v3M864.5 866v2M865.5 863v3M866.5 860v3M867.5 857v3M868.5 855v2M869.5 852v3M870.5 850v2M871.5 852v4M872.5 856v4M873.5 860v4M874.5 864v3M875.5 867v4M876.5 871v4M877.5 875v4M878.5 879v1M911.5 882v1M912.5 883v1M913.5 884v1M916.5 886v1M917.5 887v1M918.5 888v1M919.5 886v2M920.5 885v1M921.5 883v2M922.5 882v1M923.5 880v2M924.5 879v1M925.5 877v2M943.5 879v1M944.5 880v1M945.5 881v1M946.5 882v2M947.5 884v1M948.5 885v1M949.5 886v1M967.5 890v1M968.5 891v1M969.5 892v1M970.5 893v1M971.5 894v1M972.5 895v1M973.5 896v1M974.5 897v1M983.5 902v1M984.5 903v1M985.5 904v1M986.5 905v1M987.5 906v1M988.5 907v1M990.5 909v1M991.5 904v4M992.5 900v4M993.5 896v4M994.5 892v4M995.5 888v4M996.5 884v4M997.5 880v4M998.5 878v2M1007.5 875v1M1008.5 874v1M1009.5 873v1M1010.5 872v1M1011.5 871v1M1012.5 870v1M1013.5 869v1M1023.5 868v1M1024.5 866v2M1025.5 865v1M1026.5 864v1M1027.5 863v1M1028.5 861v2M1029.5 860v1M1030.5 859v1M1033.5 861v1M1047.5 865v1M1048.5 864v1M1049.5 863v1M1050.5 862v1M1051.5 861v1M1052.5 860v1M1053.5 859v1M1063.5 861v1M1064.5 862v1M1065.5 863v1M1066.5 864v2M1067.5 866v1M1068.5 867v1M1069.5 868v1M1070.5 869v1M1071.5 867v2M1072.5 865v2M1073.5 863v2M1074.5 862v1M1075.5 860v2M1076.5 858v2M1077.5 856v2M1087.5 856v1M1090.5 854v1M1091.5 853v1M1111.5 851v2M1112.5 850v1M1113.5 848v2M1114.5 847v1M1115.5 845v2M1116.5 844v1M1117.5 842v2M1159.5 846v1M1162.5 848v1M1163.5 849v1M1166.5 851v1M1167.5 850v1M1168.5 849v1M1169.5 848v1M1170.5 847v1M1171.5 846v1M1172.5 845v1M1173.5 844v1M1207.5 842v2M1208.5 844v2M1209.5 846v1M1210.5 847v2M1211.5 849v1M1212.5 850v2M1213.5 852v2M1223.5 858v1M1224.5 859v1M1225.5 860v1M1228.5 862v1M1229.5 863v1M1247.5 863v1M1250.5 865v1M1251.5 866v1M1262.5 866v1M1263.5 862v4M1264.5 859v3M1265.5 855v4M1266.5 852v3M1267.5 848v4M1268.5 845v3M1269.5 841v4M1270.5 840v1M1302.5 843v1M1303.5 844v2M1304.5 846v2M1305.5 848v2M1306.5 850v3M1307.5 853v2M1308.5 855v2M1309.5 857v2M1310.5 859v2M1311.5 861v1M1312.5 862v2M1313.5 864v1M1314.5 865v1M1315.5 866v1M1316.5 867v2M1317.5 869v1M1318.5 870v1M1319.5 871v1M1320.5 872v1M1321.5 873v1M1324.5 875v1M1325.5 876v1M1343.5 873v1M1346.5 871v1M1347.5 870v1M1383.5 864v1M1384.5 863v1M1385.5 862v1M1386.5 860v2M1387.5 859v1M1388.5 858v1M1389.5 857v1M1401.5 855v1M1406.5 852v1" fill="none" stroke="#1e90ff" stroke-width="1"/>
<text x="2" y="781" font-size="9.05" fill="#000" stroke="#000" stroke-width=".15">RSI(14) 53.4225</text>
<rect x="-2" y="930" width="1" height="3" fill="#000"/>
<text x="-3.6" y="942" font-size="9.05" fill="#000" stroke="#000" stroke-width=".15">8 Jul 2019</text>
<rect x="62" y="930" width="1" height="3" fill="#000"/>
<text x="61.6" y="942" font-size="9.05" fill="#000" stroke="#000" stroke-width=".15">10 Jul 04:00</text>
<rect x="126" y="930" width="1" height="3" fill="#000"/>
<text x="125.6" y="942" font-size="9.05" fill="#000" stroke="#000" stroke-width=".15">11 Jul 12:00</text>
<rect x="190" y="930" width="1" height="3" fill="#000"/>
<text x="189.6" y="942" font-size="9.05" fill="#000" stroke="#000" stroke-width=".15">12 Jul 20:00</text>
<rect x="254" y="930" width="1" height="3" fill="#000"/>
<text x="253.6" y="942" font-size="9.05" fill="#000" stroke="#000" stroke-width=".15">16 Jul 00:00</text>
<rect x="318" y="930" width="1" height="3" fill="#000"/>
<text x="317.6" y="942" font-size="9.05" fill="#000" stroke="#000" stroke-width=".15">17 Jul 08:00</text>
<rect x="382" y="930" width="1" height="3" fill="#000"/>
<text x="381.6" y="942" font-size="9.05" fill="#000" stroke="#000" stroke-width=".15">18 Jul 16:00</text>
<rect x="446" y="930" width="1" height="3" fill="#000"/>
<text x="445.6" y="942" font-size="9.05" fill="#000" stroke="#000" stroke-width=".15">21 Jul 23:00</text>
<rect x="510" y="930" width="1" height="3" fill="#000"/>
<text x="509.6" y="942" font-size="9.05" fill="#000" stroke="#000" stroke-width=".15">23 Jul 04:00</text>
<rect x="574" y="930" width="1" height="3" fill="#000"/>
<text x="573.6" y="942" font-size="9.05" fill="#000" stroke="#000" stroke-width=".15">24 Jul 12:00</text>
<rect x="638" y="930" width="1" height="3" fill="#000"/>
<text x="637.6" y="942" font-size="9.05" fill="#000" stroke="#000" stroke-width=".15">25 Jul 20:00</text>
<rect x="702" y="930" width="1" height="3" fill="#000"/>
<text x="701.6" y="942" font-size="9.05" fill="#000" stroke="#000" stroke-width=".15">29 Jul 00:00</text>
<rect x="766" y="930" width="1" height="3" fill="#000"/>
<text x="765.6" y="942" font-size="9.05" fill="#000" stroke="#000" stroke-width=".15">30 Jul 08:00</text>
<rect x="830" y="930" width="1" height="3" fill="#000"/>
<text x="829.6" y="942" font-size="9.05" fill="#000" stroke="#000" stroke-width=".15">31 Jul 16:00</text>
<rect x="894" y="930" width="1" height="3" fill="#000"/>
<text x="893.6" y="942" font-size="9.05" fill="#000" stroke="#000" stroke-width=".15">2 Aug 00:00</text>
<rect x="958" y="930" width="1" height="3" fill="#000"/>
<text x="957.6" y="942" font-size="9.05" fill="#000" stroke="#000" stroke-width=".15">5 Aug 04:00</text>
<rect x="1022" y="930" width="1" height="3" fill="#000"/>
<text x="1021.6" y="942" font-size="9.05" fill="#000" stroke="#000" stroke-width=".15">6 Aug 12:00</text>
<rect x="1086" y="930" width="1" height="3" fill="#000"/>
<text x="1085.6" y="942" font-size="9.05" fill="#000" stroke="#000" stroke-width=".15">7 Aug 20:00</text>
<rect x="1150" y="930" width="1" height="3" fill="#000"/>
<text x="1149.6" y="942" font-size="9.05" fill="#000" stroke="#000" stroke-width=".15">9 Aug 04:00</text>
<rect x="1214" y="930" width="1" height="3" fill="#000"/>
<text x="1213.6" y="942" font-size="9.05" fill="#000" stroke="#000" stroke-width=".15">12 Aug 08:00</text>
<rect x="1278" y="930" width="1" height="3" fill="#000"/>
<text x="1277.6" y="942" font-size="9.05" fill="#000" stroke="#000" stroke-width=".15">13 Aug 16:00</text>
<rect x="1342" y="930" width="1" height="3" fill="#000"/>
<text x="1341.6" y="942" font-size="9.05" fill="#000" stroke="#000" stroke-width=".15">15 Aug 00:00</text>
<rect x="1406" y="930" width="1" height="3" fill="#000"/>
<text x="1405.6" y="942" font-size="9.05" fill="#000" stroke="#000" stroke-width=".15">16 Aug 08:00</text>
<polygon points="1,40.3 8.6,40.3 4.8,36" fill="#000" shape-rendering="auto"/>
<text x="13.3" y="41" font-size="9.05" fill="#000" stroke="#000" stroke-width=".15" textLength="38.8" lengthAdjust="spacingAndGlyphs">DJ30-,H4</text>
<text x="58.1" y="41" font-size="9.05" fill="#000" stroke="#000" stroke-width=".15" textLength="140.9" lengthAdjust="spacingAndGlyphs">25880.0 25908.0 25866.0 25907.0</text>
<rect x="0" y="47" width="222" height="68" fill="#fff"/>
<rect x="1" y="49" width="52" height="24" fill="url(#gt)"/>
<rect x="168" y="49" width="52" height="24" fill="url(#gt)"/>
<rect x="1" y="73" width="109" height="40" fill="url(#gb)"/>
<rect x="112" y="73" width="108" height="40" fill="url(#gb)"/>
<rect x="110" y="73" width="2" height="40" fill="#fff"/>
<rect x="5" y="72" width="44" height="1" fill="#f59a9a"/>
<rect x="172" y="72" width="44" height="1" fill="#f59a9a"/>
<rect x="55.5" y="49.5" width="110" height="21" fill="#fff" stroke="#a8a8a8" stroke-width="1"/>
<rect x="56" y="50" width="20" height="20" fill="#e6e6e6"/>
<rect x="145" y="50" width="20" height="20" fill="#e6e6e6"/>
<rect x="76" y="50" width="1" height="20" fill="#b8b8b8"/>
<rect x="144" y="50" width="1" height="20" fill="#b8b8b8"/>
<polygon points="62.5,58 69.5,58 66,62" fill="#000" shape-rendering="auto"/>
<polygon points="151,62 158,62 154.5,58" fill="#000" shape-rendering="auto"/>
<text x="118" y="65" font-size="12.8" fill="#1a1a1a" textLength="22.8" lengthAdjust="spacingAndGlyphs">1.00</text>
<text x="13.2" y="65" font-size="11.5" fill="#fff" textLength="25.8" lengthAdjust="spacingAndGlyphs">SELL</text>
<text x="193" y="65" font-size="11.5" text-anchor="middle" fill="#fff">BUY</text>
<text x="17" y="104" font-size="12.5" font-weight="bold" fill="#fff">25905</text>
<text x="54.3" y="104" font-size="32" fill="#fff" textLength="25.3" lengthAdjust="spacingAndGlyphs">.5</text>
<text x="127" y="104" font-size="12.5" font-weight="bold" fill="#fff">25915</text>
<text x="164.7" y="104" font-size="32" fill="#fff" textLength="25.3" lengthAdjust="spacingAndGlyphs">.5</text>
<rect x="0" y="0" width="1673" height="24" fill="#f0f0f0"/>
<rect x="0" y="24" width="1673" height="1" fill="#dcdcdc"/>
<rect x="0" y="25" width="1673" height="1" fill="#a0a0a0"/>
<rect x="0" y="26" width="1673" height="1" fill="#696969"/>
<g shape-rendering="auto">
<defs><linearGradient id="gold" x1="0" y1="0" x2="1" y2="1"><stop offset="0" stop-color="#f8e27a"/><stop offset=".5" stop-color="#e0a818"/><stop offset="1" stop-color="#a86a08"/></linearGradient><linearGradient id="grn" x1="0" y1="0" x2="0" y2="1"><stop offset="0" stop-color="#5be85b"/><stop offset="1" stop-color="#0a9a0a"/></linearGradient><linearGradient id="blu" x1="0" y1="0" x2="0" y2="1"><stop offset="0" stop-color="#58b8ff"/><stop offset="1" stop-color="#0a6ad8"/></linearGradient><radialGradient id="lens" cx=".4" cy=".35" r=".7"><stop offset="0" stop-color="#ffffff"/><stop offset="1" stop-color="#9cc8f4"/></radialGradient><pattern id="chk" width="2" height="2" patternUnits="userSpaceOnUse"><rect width="2" height="2" fill="#f0f0f0"/><rect width="1" height="1" fill="#fff"/><rect x="1" y="1" width="1" height="1" fill="#fff"/></pattern></defs>
<path d="M-2,4.5 H6 L9.5,8 V18.5 H-2 Z" fill="#fff" stroke="#9a9a9a" stroke-width="1"/>
<path d="M0,9 H6 M0,12 H4" stroke="#8a8a8a" stroke-width="1.4"/>
<path d="M5.5,11 H9.5 V14.5 H13 V18.5 H9.5 V22 H5.5 V18.5 H2 V14.5 H5.5 Z" fill="url(#grn)" stroke="#0a7a0a" stroke-width=".8"/>
<text x="16" y="15.6" font-size="12" font-weight="500" fill="#000">新订单</text>
<path d="M64,14 L70,6.5 L80,13.5 L72.5,20.8 Z" fill="url(#gold)" stroke="#a87810" stroke-width=".8"/>
<path d="M64,14 L72.5,20.8 L80,13.5 L79.5,15.5 L72.5,22 L64.5,16 Z" fill="#b88418"/>
<path d="M94,6.5 L97,4.8 H104 V16 H94 Z" fill="url(#blu)" stroke="#1870d0" stroke-width=".6"/>
<path d="M98,8 H103 M98,10.5 H103" stroke="#d8f0ff" stroke-width="1.2"/>
<path d="M94.5,20.5 a3.2,3.2 0 0 1 0.5,-6.3 a4,4 0 0 1 7,-0.8 a3,3 0 0 1 4.5,1.8 a2.8,2.8 0 0 1 -0.5,5.3 Z" fill="#eef4fb" stroke="#7a9cc8" stroke-width=".9"/>
<g fill="none"><circle cx="128" cy="12.5" r="7.2" stroke="#8ab0e8" stroke-width="1.3"/><circle cx="128" cy="12.5" r="4.6" stroke="#5a8ee0" stroke-width="1.3"/><circle cx="128" cy="12.5" r="2" fill="#2a6ad8"/></g>
<path d="M127.3,13 V20.5 A8,8 0 0 0 134,16.5" fill="none" stroke="#2aa83a" stroke-width="1.6"/>
<path d="M148.5,12 L156,20.5 L163,12 Z" fill="#f4d048" stroke="#c89818" stroke-width=".6"/>
<ellipse cx="155.5" cy="10" rx="8" ry="3.2" fill="#5a9ee8" stroke="#2a6ac8" stroke-width=".6"/><ellipse cx="155.5" cy="7.8" rx="4" ry="2.8" fill="#6aaef0"/>
<circle cx="159.6" cy="16.6" r="4" fill="#e01818" stroke="#fff" stroke-width=".5"/><rect x="157.9" y="14.9" width="3.4" height="3.4" fill="#fff"/>
<text x="168.5" y="15.6" font-size="11.8" font-weight="500" fill="#000">自动交易</text>
<rect x="223" y="0" width="1" height="25" fill="#a0a0a0" shape-rendering="crispEdges"/>
<rect x="224" y="0" width="1" height="25" fill="#fff"/>
<rect x="227" y="3" width="3" height="1" fill="#b4b4b4" shape-rendering="crispEdges"/>
<rect x="227" y="5" width="3" height="1" fill="#b4b4b4" shape-rendering="crispEdges"/>
<rect x="227" y="7" width="3" height="1" fill="#b4b4b4" shape-rendering="crispEdges"/>
<rect x="227" y="9" width="3" height="1" fill="#b4b4b4" shape-rendering="crispEdges"/>
<rect x="227" y="11" width="3" height="1" fill="#b4b4b4" shape-rendering="crispEdges"/>
<rect x="227" y="13" width="3" height="1" fill="#b4b4b4" shape-rendering="crispEdges"/>
<rect x="227" y="15" width="3" height="1" fill="#b4b4b4" shape-rendering="crispEdges"/>
<rect x="227" y="17" width="3" height="1" fill="#b4b4b4" shape-rendering="crispEdges"/>
<rect x="227" y="19" width="3" height="1" fill="#b4b4b4" shape-rendering="crispEdges"/>
<rect x="227" y="21" width="3" height="1" fill="#b4b4b4" shape-rendering="crispEdges"/>
<g stroke="#505050" stroke-width="1" fill="none"><path d="M241.5,7.5 V21 M238.5,18.5 H252.0"/><path d="M240.0,9.5 L241.5,7.5 L243.0,9.5 M250.0,17 L252.0,18.5 L250.0,20"/></g>
<path d="M246.5,9 V17 M246.5,9.5 H249 M244.5,16 H246.5" stroke="#1a9a2a" stroke-width="1.5" fill="none"/>
<rect x="261" y="1" width="25" height="22" fill="url(#chk)" shape-rendering="crispEdges"/>
<rect x="261" y="1" width="25" height="1" fill="#a0a0a0" shape-rendering="crispEdges"/><rect x="261" y="1" width="1" height="22" fill="#a0a0a0" shape-rendering="crispEdges"/>
<rect x="261" y="22" width="25" height="1" fill="#fff" shape-rendering="crispEdges"/><rect x="285" y="1" width="1" height="22" fill="#fff" shape-rendering="crispEdges"/>
<g stroke="#505050" stroke-width="1" fill="none"><path d="M269.5,7.5 V21 M266.5,18.5 H280.0"/><path d="M268.0,9.5 L269.5,7.5 L271.0,9.5 M278.0,17 L280.0,18.5 L278.0,20"/></g>
<path d="M274.5,5.5 V17" stroke="#0a7a0a" stroke-width="1"/><rect x="272.5" y="7.5" width="4" height="7" fill="#2ad03a" stroke="#0a8a1a" stroke-width=".8"/>
<g stroke="#505050" stroke-width="1" fill="none"><path d="M297.5,7.5 V21 M294.5,18.5 H308.0"/><path d="M296.0,9.5 L297.5,7.5 L299.0,9.5 M306.0,17 L308.0,18.5 L306.0,20"/></g>
<path d="M296.5,16 Q300,8 302.5,9.5 T308,14" stroke="#1a9a2a" stroke-width="1.3" fill="none"/>
<rect x="318" y="2" width="1" height="21" fill="#a0a0a0" shape-rendering="crispEdges"/>
<path d="M336.1,14.6 L342.1,19.8" stroke="#c89a20" stroke-width="2.6" stroke-linecap="round"/>
<circle cx="332.5" cy="11" r="5.2" fill="url(#lens)" stroke="#3a88e0" stroke-width="1.7"/>
<path d="M329.7,11 H335.3" stroke="#1a58c0" stroke-width="1.8"/>
<path d="M332.5,8.2 V13.8" stroke="#1a58c0" stroke-width="1.8"/>
<path d="M364.40000000000003,14.6 L370.40000000000003,19.8" stroke="#c89a20" stroke-width="2.6" stroke-linecap="round"/>
<circle cx="360.8" cy="11" r="5.2" fill="url(#lens)" stroke="#3a88e0" stroke-width="1.7"/>
<path d="M358.0,11 H363.6" stroke="#1a58c0" stroke-width="1.8"/>
<rect x="383" y="5" width="7.7" height="7.7" fill="#58b030"/><rect x="383" y="5" width="7.7" height="2" fill="#000" fill-opacity=".22"/><rect x="384.3" y="8.2" width="5.1" height="3" fill="#e8f0fa"/><rect x="385.3" y="10.2" width="3.1" height="1" fill="#58b030" fill-opacity=".6"/>
<rect x="391.3" y="5" width="7.7" height="7.7" fill="#2868d0"/><rect x="391.3" y="5" width="7.7" height="2" fill="#000" fill-opacity=".22"/><rect x="392.6" y="8.2" width="5.1" height="3" fill="#e8f0fa"/><rect x="393.6" y="10.2" width="3.1" height="1" fill="#2868d0" fill-opacity=".6"/>
<rect x="383" y="13.3" width="7.7" height="7.7" fill="#2868d0"/><rect x="383" y="13.3" width="7.7" height="2" fill="#000" fill-opacity=".22"/><rect x="384.3" y="16.5" width="5.1" height="3" fill="#e8f0fa"/><rect x="385.3" y="18.5" width="3.1" height="1" fill="#2868d0" fill-opacity=".6"/>
<rect x="391.3" y="13.3" width="7.7" height="7.7" fill="#58b030"/><rect x="391.3" y="13.3" width="7.7" height="2" fill="#000" fill-opacity=".22"/><rect x="392.6" y="16.5" width="5.1" height="3" fill="#e8f0fa"/><rect x="393.6" y="18.5" width="3.1" height="1" fill="#58b030" fill-opacity=".6"/>
<rect x="408" y="2" width="1" height="21" fill="#a0a0a0" shape-rendering="crispEdges"/>
<rect x="413" y="1" width="25" height="22" fill="url(#chk)" shape-rendering="crispEdges"/>
<rect x="413" y="1" width="25" height="1" fill="#a0a0a0" shape-rendering="crispEdges"/><rect x="413" y="1" width="1" height="22" fill="#a0a0a0" shape-rendering="crispEdges"/>
<rect x="413" y="22" width="25" height="1" fill="#fff" shape-rendering="crispEdges"/><rect x="437" y="1" width="1" height="22" fill="#fff" shape-rendering="crispEdges"/>
<g stroke="#505050" stroke-width="1" fill="none"><path d="M421.5,7.5 V21 M418.5,18.5 H432.0"/><path d="M420.0,9.5 L421.5,7.5 L423.0,9.5 M430.0,17 L432.0,18.5 L430.0,20"/></g>
<path d="M426.5,9 L430.5,12.5 L426.5,16 Z" fill="#7ad87a" stroke="#1a9a2a" stroke-width="1"/>
<rect x="441" y="1" width="25" height="22" fill="url(#chk)" shape-rendering="crispEdges"/>
<rect x="441" y="1" width="25" height="1" fill="#a0a0a0" shape-rendering="crispEdges"/><rect x="441" y="1" width="1" height="22" fill="#a0a0a0" shape-rendering="crispEdges"/>
<rect x="441" y="22" width="25" height="1" fill="#fff" shape-rendering="crispEdges"/><rect x="465" y="1" width="1" height="22" fill="#fff" shape-rendering="crispEdges"/>
<g stroke="#505050" stroke-width="1" fill="none"><path d="M449.5,7.5 V21 M446.5,18.5 H460.0"/><path d="M448.0,9.5 L449.5,7.5 L451.0,9.5 M458.0,17 L460.0,18.5 L458.0,20"/></g>
<path d="M455.5,7 V17" stroke="#2878c8" stroke-width="1.3"/><path d="M461,12.5 H457 M459,10.5 L457,12.5 L459,14.5" stroke="#e03818" stroke-width="1.2" fill="none"/>
<rect x="470" y="2" width="1" height="21" fill="#a0a0a0" shape-rendering="crispEdges"/>
<path d="M480.5,6 H486 L488.5,8.5 V17.5 H480.5 Z" fill="#fff" stroke="#8a8a8a" stroke-width="1"/><path d="M483,5 H489 L491.5,7.5 V16" fill="none" stroke="#8a8a8a" stroke-width="1"/>
<text x="481.5" y="14.5" font-size="7" font-style="italic" fill="#555">f</text>
<path d="M488,11 H491.6 V14.6 H495.4 V18.2 H491.6 V22 H488 V18.2 H484.4 V14.6 H488 Z" fill="url(#grn)" stroke="#0a7a0a" stroke-width=".8"/>
<polygon points="502,12 507,12 504.5,15" fill="#000"/>
<circle cx="525.8" cy="13" r="7.4" fill="url(#blu)" stroke="#0a48a8" stroke-width=".8"/><circle cx="525.8" cy="13" r="5.2" fill="#f4f8ff"/><path d="M525.8,9.3 V10.3 M525.8,15.7 V16.7 M522.1,13 H523.1 M528.5,13 H529.5" stroke="#7a8aa0" stroke-width=".8"/><path d="M525.8,10 V13.3 H528.2" stroke="#333" stroke-width="1" fill="none"/>
<polygon points="541,12 546,12 543.5,15" fill="#000"/>
<rect x="557.5" y="6.5" width="15" height="13" fill="#fff" stroke="#2a68c8" stroke-width="1"/><rect x="557.5" y="6.5" width="15" height="2.5" fill="#4a88e0"/><path d="M557.5,13.5 H572.5" stroke="#2a68c8" stroke-width="1"/>
<path d="M559.5,12 L563,11 L566,11.5 L570.5,10" stroke="#c03818" stroke-width="1.1" fill="none"/><path d="M559.5,17.5 L563,16.5 L566,15 L570.5,17" stroke="#1a9a2a" stroke-width="1.1" fill="none"/>
<polygon points="580,12 585,12 582.5,15" fill="#000"/>
<rect x="591" y="0" width="1" height="25" fill="#a0a0a0" shape-rendering="crispEdges"/>
<rect x="592" y="0" width="1" height="25" fill="#fff"/>
<rect x="595" y="3" width="3" height="1" fill="#b4b4b4" shape-rendering="crispEdges"/>
<rect x="595" y="5" width="3" height="1" fill="#b4b4b4" shape-rendering="crispEdges"/>
<rect x="595" y="7" width="3" height="1" fill="#b4b4b4" shape-rendering="crispEdges"/>
<rect x="595" y="9" width="3" height="1" fill="#b4b4b4" shape-rendering="crispEdges"/>
<rect x="595" y="11" width="3" height="1" fill="#b4b4b4" shape-rendering="crispEdges"/>
<rect x="595" y="13" width="3" height="1" fill="#b4b4b4" shape-rendering="crispEdges"/>
<rect x="595" y="15" width="3" height="1" fill="#b4b4b4" shape-rendering="crispEdges"/>
<rect x="595" y="17" width="3" height="1" fill="#b4b4b4" shape-rendering="crispEdges"/>
<rect x="595" y="19" width="3" height="1" fill="#b4b4b4" shape-rendering="crispEdges"/>
<rect x="595" y="21" width="3" height="1" fill="#b4b4b4" shape-rendering="crispEdges"/>
<rect x="601" y="1" width="25" height="22" fill="url(#chk)" shape-rendering="crispEdges"/>
<rect x="601" y="1" width="25" height="1" fill="#a0a0a0" shape-rendering="crispEdges"/><rect x="601" y="1" width="1" height="22" fill="#a0a0a0" shape-rendering="crispEdges"/>
<rect x="601" y="22" width="25" height="1" fill="#fff" shape-rendering="crispEdges"/><rect x="625" y="1" width="1" height="22" fill="#fff" shape-rendering="crispEdges"/>
<path d="M609.5,6.5 V18 L612.3,15.5 L614.5,20.2 L616.2,19.4 L614,14.8 L617.5,14.5 Z" fill="#4a4a4a"/>
<path d="M641.5,6 V20.5 M634,13.5 H649" stroke="#444" stroke-width="1"/><rect x="640.5" y="12.5" width="2" height="2" fill="#f0f0f0"/>
<rect x="658" y="2" width="1" height="21" fill="#a0a0a0" shape-rendering="crispEdges"/>
<path d="M675.5,7 V20" stroke="#444" stroke-width="1.1"/>
<path d="M698,13.5 H710" stroke="#444" stroke-width="1.1"/>
<path d="M726,19.8 L738,8.2" stroke="#444" stroke-width="1.1"/>
<path d="M752,16 L765,6 M752,20 L765,10 M755,10 L757.5,20 M759,7.5 L761,17.5 M763,5 L765,14" stroke="#444" stroke-width="1" fill="none"/>
<text x="763" y="21.5" font-size="6.5" font-weight="bold" fill="#333">E</text>
<path d="M781,6.5 H795" stroke="#555" stroke-width="1" stroke-dasharray="1 1"/>
<path d="M781,10.5 H795" stroke="#555" stroke-width="1" stroke-dasharray="1 1"/>
<path d="M781,14.5 H795" stroke="#555" stroke-width="1" stroke-dasharray="1 1"/>
<path d="M781,18.5 H795" stroke="#555" stroke-width="1" stroke-dasharray="1 1"/>
<text x="790.5" y="22" font-size="6.5" font-weight="bold" fill="#333">F</text>
<text x="811.5" y="17.8" font-size="12" fill="#555" stroke="#555" stroke-width=".5">A</text>
<rect x="838.5" y="7.5" width="11" height="12" fill="none" stroke="#555" stroke-width="1" stroke-dasharray="1 1" shape-rendering="crispEdges"/><text x="840.2" y="17.8" font-size="11" font-weight="bold" fill="#555">T</text>
<path d="M869,7.5 L872,10.5 L866,10.5 Z M874.5,19.5 L871.5,16.5 L877.5,16.5 Z" fill="#444"/><path d="M866.5,13 L869,15.5 L873,10" stroke="#444" stroke-width="1.4" fill="none"/><path d="M871,15 L874,12 L877,15 Z" fill="#444"/>
<polygon points="886,12 891,12 888.5,15" fill="#000"/>
<rect x="897" y="0" width="1" height="25" fill="#a0a0a0" shape-rendering="crispEdges"/>
<rect x="898" y="0" width="1" height="25" fill="#fff"/>
<rect x="901" y="3" width="3" height="1" fill="#b4b4b4" shape-rendering="crispEdges"/>
<rect x="901" y="5" width="3" height="1" fill="#b4b4b4" shape-rendering="crispEdges"/>
<rect x="901" y="7" width="3" height="1" fill="#b4b4b4" shape-rendering="crispEdges"/>
<rect x="901" y="9" width="3" height="1" fill="#b4b4b4" shape-rendering="crispEdges"/>
<rect x="901" y="11" width="3" height="1" fill="#b4b4b4" shape-rendering="crispEdges"/>
<rect x="901" y="13" width="3" height="1" fill="#b4b4b4" shape-rendering="crispEdges"/>
<rect x="901" y="15" width="3" height="1" fill="#b4b4b4" shape-rendering="crispEdges"/>
<rect x="901" y="17" width="3" height="1" fill="#b4b4b4" shape-rendering="crispEdges"/>
<rect x="901" y="19" width="3" height="1" fill="#b4b4b4" shape-rendering="crispEdges"/>
<rect x="901" y="21" width="3" height="1" fill="#b4b4b4" shape-rendering="crispEdges"/>
<rect x="1047" y="1" width="25" height="22" fill="url(#chk)" shape-rendering="crispEdges"/>
<rect x="1047" y="1" width="25" height="1" fill="#a0a0a0" shape-rendering="crispEdges"/><rect x="1047" y="1" width="1" height="22" fill="#a0a0a0" shape-rendering="crispEdges"/>
<rect x="1047" y="22" width="25" height="1" fill="#fff" shape-rendering="crispEdges"/><rect x="1071" y="1" width="1" height="22" fill="#fff" shape-rendering="crispEdges"/>
<text x="912.5" y="16.9" font-size="9.4" fill="#3a3a3a">M1</text>
<text x="940.5" y="16.9" font-size="9.4" fill="#3a3a3a">M5</text>
<text x="966.5" y="16.9" font-size="9.4" fill="#3a3a3a">M15</text>
<text x="994.5" y="16.9" font-size="9.4" fill="#3a3a3a">M30</text>
<text x="1025.5" y="16.9" font-size="9.4" fill="#3a3a3a">H1</text>
<text x="1052" y="16.9" font-size="9.4" fill="#3a3a3a">H4</text>
<text x="1081" y="16.9" font-size="9.4" fill="#3a3a3a">D1</text>
<text x="1108.5" y="16.9" font-size="9.4" fill="#3a3a3a">W1</text>
<text x="1136" y="16.9" font-size="9.4" fill="#3a3a3a">MN</text>
<rect x="1158" y="0" width="1" height="25" fill="#a0a0a0" shape-rendering="crispEdges"/>
<rect x="1159" y="0" width="1" height="25" fill="#fff"/>
<circle cx="1628.2" cy="10" r="3.6" fill="#e8f2ff" stroke="#2a58c8" stroke-width="1.8"/><path d="M1625.6,13 L1621,18" stroke="#2a58c8" stroke-width="2.2" stroke-linecap="round"/>
<ellipse cx="1661" cy="10.5" rx="6" ry="4.8" fill="#f4f4f4" stroke="#9a9a9a" stroke-width="1"/><path d="M1663,14.5 L1665,17.5 L1660,15" fill="#f4f4f4" stroke="#9a9a9a" stroke-width=".8"/>
<ellipse cx="1652.5" cy="14" rx="5.2" ry="4" fill="#fafafa" stroke="#8a8a8a" stroke-width="1"/><path d="M1650,17.2 L1649,20 L1653,17.8" fill="#fafafa" stroke="#8a8a8a" stroke-width=".8"/>
</g>
</svg>
</body></html>
